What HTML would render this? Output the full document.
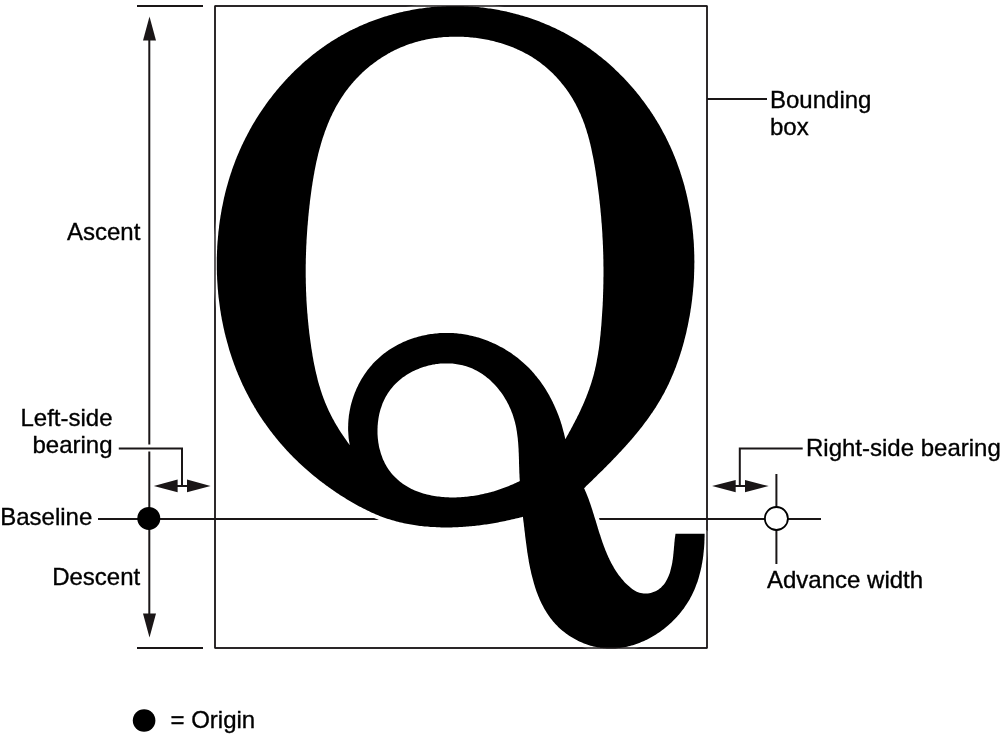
<!DOCTYPE html>
<html><head><meta charset="utf-8"><style>
html,body{margin:0;padding:0;background:#fff;width:1001px;height:739px;overflow:hidden}
svg{position:absolute;left:0;top:0;will-change:transform}
text{font-family:"Liberation Sans",sans-serif;font-size:24px;fill:#000;stroke:#000;stroke-width:0.35px}
</style></head><body>
<svg width="1001" height="739" viewBox="0 0 1001 739">
<g stroke="#1a1617" fill="none">
<line x1="137" y1="6" x2="203" y2="6" stroke-width="2"/>
<line x1="137" y1="648" x2="203" y2="648" stroke-width="2"/>
<rect x="215" y="6" width="492" height="642" stroke-width="1.4"/>
<line x1="149.3" y1="40" x2="149.3" y2="444.5" stroke-width="2"/>
<line x1="149.3" y1="451.5" x2="149.3" y2="614" stroke-width="2"/>
<line x1="98" y1="519" x2="380" y2="519" stroke-width="2"/>
<line x1="598" y1="519" x2="821" y2="519" stroke-width="2"/>
<line x1="707" y1="98.9" x2="767" y2="98.9" stroke-width="2"/>
<polyline points="118.8,448.4 182,448.4 182,486" stroke-width="2"/>
<polyline points="802.7,448.4 739.8,448.4 739.8,486" stroke-width="2"/>
<line x1="165" y1="486" x2="200" y2="486" stroke-width="2"/>
<line x1="720" y1="486.1" x2="760" y2="486.1" stroke-width="2"/>
<line x1="776.4" y1="474" x2="776.4" y2="564" stroke-width="2"/>
</g>
<g fill="#1a1617">
<polygon points="149.5,16.5 143,40.5 156,40.5"/>
<polygon points="149.5,637.5 143,613.5 156,613.5"/>
<polygon points="153.8,485.9 177.6,479.6 177.6,492.2"/>
<polygon points="210.6,485.9 187,479.6 187,492.2"/>
<polygon points="712.1,486.1 735.7,480 735.7,492.2"/>
<polygon points="768.7,486.1 745,480 745,492.2"/>
</g>
<path d="M522.9,516.8L523.1,518.2L523.2,519.6L523.4,521.0L523.6,522.4L523.8,523.8L523.9,525.2L524.1,526.7L524.3,528.1L524.4,529.6L524.6,531.1L524.8,532.5L525.0,534.0L525.1,535.5L525.3,537.0L525.5,538.5L525.7,540.0L525.9,541.5L526.1,543.0L526.3,544.5L526.5,546.0L526.7,547.6L526.9,549.1L527.1,550.6L527.3,552.2L527.6,553.7L527.8,555.2L528.1,556.8L528.3,558.3L528.6,559.8L528.8,561.4L529.1,562.9L529.4,564.4L529.7,566.0L530.0,567.5L530.3,569.0L530.7,570.5L531.0,572.1L531.3,573.6L531.7,575.1L532.1,576.6L532.5,578.1L532.9,579.6L533.3,581.1L533.7,582.6L534.1,584.1L534.6,585.6L535.0,587.0L535.5,588.5L536.0,590.0L536.5,591.4L537.0,592.8L537.6,594.3L538.1,595.7L538.7,597.1L539.3,598.5L539.9,599.9L540.5,601.3L541.1,602.6L541.8,604.0L542.5,605.3L543.2,606.6L543.9,608.0L544.6,609.3L545.4,610.5L546.2,611.8L546.9,613.1L547.8,614.3L548.6,615.5L549.5,616.8L550.3,618.0L551.2,619.1L552.2,620.3L553.1,621.4L554.1,622.6L555.1,623.7L556.1,624.8L557.2,625.8L558.2,626.9L559.3,627.9L560.4,628.9L561.6,629.9L562.7,630.9L563.9,631.8L565.1,632.7L566.3,633.7L567.5,634.5L568.8,635.4L570.0,636.2L571.3,637.0L572.6,637.8L573.9,638.6L575.2,639.3L576.6,640.0L577.9,640.7L579.3,641.4L580.7,642.0L582.0,642.6L583.4,643.2L584.8,643.7L586.3,644.3L587.7,644.8L589.1,645.2L590.5,645.7L592.0,646.1L593.4,646.4L594.9,646.8L596.3,647.1L597.8,647.4L599.3,647.6L600.7,647.9L602.2,648.0L603.7,648.2L605.1,648.3L606.6,648.4L608.1,648.5L609.5,648.5L611.0,648.5L612.5,648.5L614.0,648.4L615.4,648.4L616.9,648.2L618.4,648.1L619.8,647.9L621.3,647.7L622.7,647.5L624.2,647.2L625.7,647.0L627.1,646.7L628.5,646.3L630.0,646.0L631.4,645.6L632.9,645.2L634.3,644.7L635.7,644.3L637.1,643.8L638.5,643.2L639.9,642.7L641.3,642.1L642.7,641.6L644.1,640.9L645.4,640.3L646.8,639.7L648.1,639.0L649.5,638.3L650.8,637.6L652.1,636.8L653.4,636.0L654.7,635.3L656.0,634.5L657.3,633.6L658.6,632.8L659.8,631.9L661.1,631.0L662.3,630.1L663.5,629.2L664.7,628.2L665.9,627.3L667.1,626.3L668.3,625.3L669.4,624.3L670.5,623.2L671.7,622.2L672.8,621.1L673.8,620.0L674.9,618.9L676.0,617.8L677.0,616.7L678.0,615.5L679.0,614.4L680.0,613.2L681.0,612.0L681.9,610.8L682.9,609.6L683.8,608.4L684.7,607.1L685.5,605.8L686.4,604.6L687.2,603.3L688.0,602.0L688.8,600.7L689.6,599.4L690.3,598.0L691.0,596.7L691.7,595.4L692.4,594.0L693.1,592.6L693.7,591.2L694.3,589.9L694.9,588.5L695.5,587.1L696.0,585.6L696.5,584.2L697.1,582.8L697.6,581.4L698.0,579.9L698.5,578.5L698.9,577.0L699.3,575.5L699.7,574.1L700.1,572.6L700.5,571.1L700.8,569.7L701.1,568.2L701.5,566.7L701.7,565.2L702.0,563.7L702.3,562.2L702.5,560.7L702.8,559.2L703.0,557.7L703.2,556.2L703.4,554.7L703.5,553.2L703.7,551.7L703.8,550.2L704.0,548.7L704.1,547.2L704.2,545.7L704.3,544.2L704.4,542.7L704.4,541.2L704.5,539.7L704.5,538.2L704.6,536.8L704.6,535.3L704.6,533.8L675.5,533.8L675.3,535.2L675.1,536.7L674.9,538.1L674.7,539.6L674.6,541.0L674.4,542.5L674.3,544.0L674.2,545.5L674.0,546.9L673.9,548.4L673.8,550.0L673.6,551.5L673.5,553.0L673.3,554.5L673.2,556.1L673.0,557.6L672.8,559.2L672.5,560.8L672.3,562.4L672.0,563.9L671.7,565.5L671.3,567.1L670.9,568.7L670.5,570.3L670.1,571.9L669.6,573.4L669.0,574.9L668.4,576.4L667.8,577.8L667.1,579.3L666.4,580.6L665.6,581.9L664.8,583.2L663.9,584.4L662.9,585.6L661.9,586.6L660.9,587.7L659.7,588.6L658.6,589.4L657.3,590.2L656.1,590.9L654.8,591.6L653.4,592.1L652.1,592.6L650.7,592.9L649.3,593.2L647.9,593.4L646.5,593.5L645.0,593.6L643.6,593.5L642.2,593.3L640.8,593.1L639.4,592.7L638.1,592.2L636.7,591.7L635.4,591.0L634.1,590.2L632.9,589.4L631.6,588.5L630.4,587.6L629.3,586.6L628.1,585.6L627.0,584.5L625.9,583.5L624.8,582.4L623.8,581.3L622.8,580.1L621.8,579.0L620.9,577.8L619.9,576.6L619.0,575.4L618.1,574.2L617.3,573.0L616.4,571.7L615.6,570.5L614.8,569.2L614.0,567.9L613.3,566.6L612.5,565.3L611.8,564.0L611.1,562.7L610.4,561.3L609.7,559.9L609.1,558.6L608.4,557.2L607.8,555.8L607.2,554.4L606.6,553.0L606.0,551.6L605.4,550.2L604.9,548.7L604.3,547.3L603.8,545.9L603.3,544.4L602.7,543.0L602.2,541.5L601.7,540.0L601.2,538.6L600.7,537.1L600.3,535.6L599.8,534.2L599.3,532.7L598.8,531.2L598.4,529.7L597.9,528.2L597.5,526.7L597.0,525.3L596.6,523.8L596.1,522.3L595.7,520.8L595.2,519.3L594.8,517.9L594.3,516.4L593.9,514.9L593.4,513.4L592.9,512.0L592.5,510.5L592.0,509.1L591.5,507.6L591.1,506.2L590.6,504.8L590.1,503.3L589.6,501.9L589.1,500.5L588.6,499.1L588.1,497.7L587.5,496.3L587.0,494.9L586.4,493.6L585.9,492.2L585.3,490.9L584.7,489.5L584.1,488.2L585.2,487.2L586.2,486.1L587.3,485.1L588.4,484.1L589.4,483.0L590.5,482.0L591.6,480.9L592.6,479.9L593.7,478.8L594.8,477.8L595.9,476.8L596.9,475.7L598.0,474.6L599.1,473.6L600.1,472.5L601.2,471.5L602.3,470.4L603.3,469.4L604.4,468.3L605.5,467.2L606.5,466.2L607.6,465.1L608.7,464.0L609.7,462.9L610.8,461.9L611.8,460.8L612.9,459.7L613.9,458.6L615.0,457.5L616.0,456.4L617.1,455.3L618.1,454.2L619.1,453.1L620.2,452.0L621.2,450.9L622.2,449.8L623.2,448.7L624.3,447.6L625.3,446.5L626.3,445.3L627.3,444.2L628.3,443.1L629.3,441.9L630.3,440.8L631.3,439.7L632.3,438.5L633.2,437.4L634.2,436.2L635.2,435.1L636.1,433.9L637.1,432.8L638.1,431.6L639.0,430.4L639.9,429.2L640.9,428.1L641.8,426.9L642.7,425.7L643.6,424.5L644.5,423.3L645.4,422.1L646.3,420.9L647.2,419.7L648.1,418.5L649.0,417.3L649.8,416.0L650.7,414.8L651.5,413.6L652.4,412.4L653.2,411.1L654.0,409.9L654.9,408.6L655.7,407.4L656.5,406.1L657.3,404.8L658.0,403.6L658.8,402.3L659.6,401.0L660.3,399.7L661.1,398.4L661.8,397.1L662.5,395.8L663.3,394.5L664.0,393.2L664.7,391.9L665.3,390.6L666.0,389.2L666.7,387.9L667.4,386.6L668.0,385.2L668.7,383.9L669.3,382.5L669.9,381.2L670.5,379.8L671.1,378.5L671.7,377.1L672.3,375.7L672.9,374.3L673.5,373.0L674.0,371.6L674.6,370.2L675.1,368.8L675.7,367.4L676.2,366.0L676.7,364.6L677.2,363.2L677.7,361.8L678.2,360.4L678.7,358.9L679.2,357.5L679.7,356.1L680.1,354.7L680.6,353.2L681.0,351.8L681.5,350.4L681.9,348.9L682.3,347.5L682.8,346.0L683.2,344.6L683.6,343.1L684.0,341.7L684.3,340.2L684.7,338.8L685.1,337.3L685.4,335.9L685.8,334.4L686.2,332.9L686.5,331.5L686.8,330.0L687.1,328.5L687.5,327.0L687.8,325.6L688.1,324.1L688.4,322.6L688.7,321.1L688.9,319.6L689.2,318.2L689.5,316.7L689.8,315.2L690.0,313.7L690.3,312.2L690.5,310.7L690.7,309.2L691.0,307.7L691.2,306.2L691.4,304.7L691.6,303.2L691.8,301.7L692.0,300.2L692.2,298.7L692.3,297.2L692.5,295.7L692.7,294.2L692.8,292.7L693.0,291.2L693.1,289.7L693.2,288.2L693.4,286.7L693.5,285.2L693.6,283.7L693.7,282.2L693.8,280.7L693.9,279.2L694.0,277.7L694.0,276.2L694.1,274.7L694.1,273.1L694.2,271.6L694.2,270.1L694.3,268.6L694.3,267.1L694.3,265.6L694.3,264.1L694.4,262.6L694.4,261.1L694.3,259.6L694.3,258.1L694.3,256.5L694.3,255.0L694.2,253.5L694.2,252.0L694.1,250.5L694.1,249.0L694.0,247.5L693.9,246.0L693.9,244.5L693.8,243.0L693.7,241.5L693.6,240.0L693.4,238.5L693.3,237.0L693.2,235.5L693.1,234.0L692.9,232.5L692.8,231.0L692.6,229.5L692.4,228.0L692.3,226.5L692.1,225.0L691.9,223.5L691.7,222.0L691.5,220.6L691.3,219.1L691.1,217.6L690.8,216.1L690.6,214.6L690.4,213.1L690.1,211.7L689.9,210.2L689.6,208.7L689.3,207.2L689.0,205.8L688.7,204.3L688.4,202.8L688.1,201.3L687.8,199.9L687.5,198.4L687.2,197.0L686.8,195.5L686.5,194.0L686.1,192.6L685.8,191.1L685.4,189.7L685.0,188.2L684.7,186.8L684.3,185.3L683.9,183.9L683.5,182.5L683.0,181.0L682.6,179.6L682.2,178.2L681.7,176.7L681.3,175.3L680.8,173.9L680.4,172.5L679.9,171.1L679.4,169.6L678.9,168.2L678.4,166.8L677.9,165.4L677.4,164.0L676.9,162.6L676.4,161.2L675.9,159.8L675.3,158.4L674.8,157.0L674.2,155.7L673.6,154.3L673.1,152.9L672.5,151.5L671.9,150.2L671.3,148.8L670.7,147.4L670.1,146.1L669.4,144.7L668.8,143.4L668.2,142.0L667.5,140.7L666.8,139.3L666.2,138.0L665.5,136.6L664.8,135.3L664.1,134.0L663.4,132.7L662.7,131.4L662.0,130.0L661.3,128.7L660.6,127.4L659.8,126.1L659.1,124.8L658.3,123.5L657.5,122.2L656.8,121.0L656.0,119.7L655.2,118.4L654.4,117.1L653.6,115.9L652.8,114.6L652.0,113.4L651.1,112.1L650.3,110.9L649.5,109.6L648.6,108.4L647.7,107.2L646.9,105.9L646.0,104.7L645.1,103.5L644.2,102.3L643.3,101.1L642.4,99.9L641.5,98.7L640.6,97.5L639.7,96.3L638.7,95.1L637.8,94.0L636.8,92.8L635.9,91.6L634.9,90.5L634.0,89.3L633.0,88.2L632.0,87.0L631.0,85.9L630.0,84.8L629.0,83.7L628.0,82.5L627.0,81.4L625.9,80.3L624.9,79.2L623.9,78.1L622.8,77.1L621.8,76.0L620.7,74.9L619.7,73.9L618.6,72.8L617.5,71.7L616.4,70.7L615.3,69.7L614.2,68.6L613.1,67.6L612.0,66.6L610.9,65.6L609.8,64.6L608.7,63.6L607.5,62.6L606.4,61.6L605.2,60.6L604.1,59.7L602.9,58.7L601.8,57.8L600.6,56.8L599.4,55.9L598.2,54.9L597.0,54.0L595.8,53.1L594.6,52.2L593.4,51.3L592.2,50.4L591.0,49.5L589.8,48.6L588.6,47.8L587.3,46.9L586.1,46.1L584.8,45.2L583.6,44.4L582.3,43.6L581.1,42.7L579.8,41.9L578.5,41.1L577.3,40.3L576.0,39.5L574.7,38.8L573.4,38.0L572.1,37.2L570.8,36.5L569.5,35.7L568.2,35.0L566.9,34.3L565.5,33.6L564.2,32.8L562.9,32.1L561.5,31.5L560.2,30.8L558.9,30.1L557.5,29.4L556.2,28.8L554.8,28.1L553.4,27.5L552.1,26.9L550.7,26.3L549.3,25.6L547.9,25.0L546.6,24.4L545.2,23.9L543.8,23.3L542.4,22.7L541.0,22.2L539.6,21.6L538.2,21.1L536.8,20.6L535.4,20.0L533.9,19.5L532.5,19.0L531.1,18.5L529.7,18.1L528.2,17.6L526.8,17.1L525.4,16.7L523.9,16.2L522.5,15.8L521.0,15.4L519.6,15.0L518.1,14.5L516.7,14.2L515.2,13.8L513.8,13.4L512.3,13.0L510.9,12.7L509.4,12.3L507.9,12.0L506.5,11.6L505.0,11.3L503.5,11.0L502.1,10.7L500.6,10.4L499.1,10.1L497.6,9.8L496.1,9.6L494.7,9.3L493.2,9.1L491.7,8.8L490.2,8.6L488.7,8.4L487.2,8.2L485.7,8.0L484.2,7.8L482.8,7.6L481.3,7.4L479.8,7.3L478.3,7.1L476.8,7.0L475.3,6.8L473.8,6.7L472.3,6.6L470.8,6.5L469.3,6.4L467.8,6.3L466.3,6.2L464.8,6.2L463.3,6.1L461.8,6.1L460.3,6.0L458.8,6.0L457.3,6.0L455.8,6.0L454.3,6.0L452.8,6.0L451.3,6.0L449.8,6.0L448.3,6.1L446.8,6.1L445.3,6.2L443.8,6.2L442.3,6.3L440.8,6.4L439.3,6.5L437.8,6.6L436.3,6.7L434.8,6.8L433.3,7.0L431.8,7.1L430.3,7.3L428.8,7.4L427.4,7.6L425.9,7.8L424.4,8.0L422.9,8.2L421.4,8.4L419.9,8.6L418.4,8.8L417.0,9.0L415.5,9.3L414.0,9.5L412.5,9.8L411.1,10.1L409.6,10.4L408.1,10.7L406.7,11.0L405.2,11.3L403.7,11.6L402.3,11.9L400.8,12.3L399.4,12.6L397.9,13.0L396.5,13.3L395.0,13.7L393.6,14.1L392.1,14.5L390.7,14.9L389.3,15.3L387.8,15.7L386.4,16.2L385.0,16.6L383.5,17.1L382.1,17.5L380.7,18.0L379.3,18.5L377.9,18.9L376.4,19.4L375.0,19.9L373.6,20.5L372.2,21.0L370.8,21.5L369.4,22.1L368.1,22.6L366.7,23.2L365.3,23.8L363.9,24.3L362.5,24.9L361.2,25.5L359.8,26.1L358.4,26.7L357.1,27.4L355.7,28.0L354.4,28.7L353.0,29.3L351.7,30.0L350.3,30.6L349.0,31.3L347.7,32.0L346.4,32.7L345.0,33.4L343.7,34.2L342.4,34.9L341.1,35.6L339.8,36.4L338.5,37.1L337.2,37.9L335.9,38.7L334.6,39.4L333.4,40.2L332.1,41.0L330.8,41.8L329.6,42.7L328.3,43.5L327.1,44.3L325.8,45.2L324.6,46.0L323.4,46.9L322.1,47.8L320.9,48.7L319.7,49.5L318.5,50.4L317.3,51.3L316.1,52.3L314.9,53.2L313.7,54.1L312.5,55.1L311.3,56.0L310.2,57.0L309.0,57.9L307.8,58.9L306.7,59.9L305.5,60.8L304.4,61.8L303.3,62.8L302.1,63.8L301.0,64.9L299.9,65.9L298.8,66.9L297.7,68.0L296.6,69.0L295.5,70.0L294.4,71.1L293.3,72.2L292.2,73.2L291.2,74.3L290.1,75.4L289.1,76.5L288.0,77.6L287.0,78.7L285.9,79.8L284.9,80.9L283.9,82.1L282.9,83.2L281.9,84.3L280.9,85.5L279.9,86.6L278.9,87.8L277.9,88.9L276.9,90.1L276.0,91.3L275.0,92.4L274.1,93.6L273.1,94.8L272.2,96.0L271.3,97.2L270.3,98.4L269.4,99.6L268.5,100.8L267.6,102.0L266.7,103.3L265.8,104.5L265.0,105.7L264.1,107.0L263.2,108.2L262.4,109.5L261.5,110.7L260.7,112.0L259.8,113.3L259.0,114.5L258.2,115.8L257.4,117.1L256.6,118.3L255.8,119.6L255.0,120.9L254.2,122.2L253.4,123.5L252.7,124.8L251.9,126.1L251.2,127.4L250.4,128.7L249.7,130.1L249.0,131.4L248.3,132.7L247.6,134.0L246.9,135.4L246.2,136.7L245.5,138.0L244.8,139.4L244.2,140.7L243.5,142.1L242.9,143.4L242.2,144.8L241.6,146.1L241.0,147.5L240.4,148.8L239.7,150.2L239.2,151.6L238.6,152.9L238.0,154.3L237.4,155.7L236.8,157.1L236.3,158.4L235.7,159.8L235.2,161.2L234.7,162.6L234.2,164.0L233.6,165.4L233.1,166.8L232.6,168.2L232.1,169.6L231.7,171.0L231.2,172.4L230.7,173.8L230.3,175.2L229.8,176.6L229.4,178.0L228.9,179.5L228.5,180.9L228.1,182.3L227.7,183.7L227.3,185.2L226.9,186.6L226.5,188.0L226.1,189.5L225.7,190.9L225.4,192.3L225.0,193.8L224.7,195.2L224.3,196.7L224.0,198.1L223.7,199.6L223.4,201.0L223.1,202.5L222.8,203.9L222.5,205.4L222.2,206.8L221.9,208.3L221.6,209.8L221.4,211.2L221.1,212.7L220.9,214.2L220.6,215.6L220.4,217.1L220.2,218.6L219.9,220.1L219.7,221.5L219.5,223.0L219.3,224.5L219.1,226.0L219.0,227.5L218.8,229.0L218.6,230.5L218.4,231.9L218.3,233.4L218.2,234.9L218.0,236.4L217.9,237.9L217.8,239.4L217.6,240.9L217.5,242.4L217.4,243.9L217.3,245.4L217.2,246.9L217.2,248.4L217.1,249.9L217.0,251.4L217.0,252.9L216.9,254.4L216.9,256.0L216.8,257.5L216.8,259.0L216.8,260.5L216.8,262.0L216.8,263.5L216.8,265.0L216.8,266.5L216.8,268.0L216.8,269.5L216.9,271.1L216.9,272.6L216.9,274.1L217.0,275.6L217.1,277.1L217.1,278.6L217.2,280.1L217.3,281.6L217.4,283.1L217.5,284.6L217.6,286.2L217.7,287.7L217.8,289.2L218.0,290.7L218.1,292.2L218.2,293.7L218.4,295.2L218.5,296.7L218.7,298.2L218.9,299.7L219.1,301.2L219.3,302.7L219.5,304.2L219.7,305.7L219.9,307.2L220.1,308.7L220.3,310.2L220.6,311.7L220.8,313.2L221.0,314.7L221.3,316.2L221.6,317.7L221.8,319.2L222.1,320.6L222.4,322.1L222.7,323.6L223.0,325.1L223.3,326.6L223.6,328.0L224.0,329.5L224.3,331.0L224.6,332.5L225.0,333.9L225.4,335.4L225.7,336.9L226.1,338.3L226.5,339.8L226.9,341.2L227.3,342.7L227.7,344.1L228.1,345.6L228.5,347.0L228.9,348.5L229.3,349.9L229.8,351.4L230.2,352.8L230.7,354.2L231.2,355.7L231.6,357.1L232.1,358.5L232.6,359.9L233.1,361.3L233.6,362.8L234.1,364.2L234.6,365.6L235.2,367.0L235.7,368.4L236.2,369.8L236.8,371.2L237.4,372.6L237.9,374.0L238.5,375.3L239.1,376.7L239.7,378.1L240.3,379.5L240.9,380.8L241.5,382.2L242.1,383.6L242.7,384.9L243.4,386.3L244.0,387.6L244.7,389.0L245.3,390.3L246.0,391.6L246.7,393.0L247.4,394.3L248.1,395.6L248.8,397.0L249.5,398.3L250.2,399.6L250.9,400.9L251.6,402.2L252.4,403.5L253.1,404.8L253.9,406.1L254.6,407.4L255.4,408.6L256.2,409.9L256.9,411.2L257.7,412.4L258.5,413.7L259.3,415.0L260.1,416.2L261.0,417.5L261.8,418.7L262.6,419.9L263.5,421.2L264.3,422.4L265.2,423.6L266.0,424.8L266.9,426.1L267.8,427.3L268.7,428.5L269.6,429.7L270.5,430.9L271.4,432.1L272.3,433.2L273.2,434.4L274.1,435.6L275.1,436.8L276.0,437.9L276.9,439.1L277.9,440.2L278.9,441.4L279.8,442.5L280.8,443.7L281.8,444.8L282.8,445.9L283.8,447.1L284.8,448.2L285.8,449.3L286.8,450.4L287.8,451.5L288.8,452.6L289.9,453.7L290.9,454.8L292.0,455.8L293.0,456.9L294.1,458.0L295.1,459.0L296.2,460.1L297.3,461.1L298.4,462.2L299.5,463.2L300.6,464.2L301.7,465.3L302.8,466.3L303.9,467.3L305.0,468.3L306.2,469.3L307.3,470.3L308.5,471.3L309.6,472.3L310.8,473.3L311.9,474.2L313.1,475.2L314.3,476.2L315.4,477.1L316.6,478.1L317.8,479.0L319.0,480.0L320.2,480.9L321.4,481.8L322.6,482.7L323.8,483.6L325.0,484.5L326.2,485.4L327.5,486.3L328.7,487.2L329.9,488.1L331.2,489.0L332.4,489.8L333.7,490.7L334.9,491.5L336.2,492.4L337.4,493.2L338.7,494.1L339.9,494.9L341.2,495.7L342.5,496.5L343.8,497.3L345.0,498.1L346.3,498.9L347.6,499.7L348.9,500.5L350.2,501.2L351.5,502.0L352.8,502.7L354.1,503.5L355.4,504.2L356.7,505.0L358.0,505.7L359.3,506.4L360.7,507.1L362.0,507.8L363.3,508.5L364.6,509.1L366.0,509.8L367.3,510.5L368.7,511.1L370.0,511.7L371.4,512.4L372.7,513.0L374.1,513.6L375.4,514.2L376.8,514.7L378.2,515.3L379.6,515.9L381.0,516.4L382.3,516.9L383.7,517.4L385.1,517.9L386.5,518.4L388.0,518.9L389.4,519.3L390.8,519.8L392.2,520.2L393.6,520.6L395.1,521.0L396.5,521.4L398.0,521.8L399.4,522.2L400.9,522.5L402.3,522.8L403.8,523.2L405.2,523.5L406.7,523.8L408.2,524.1L409.6,524.3L411.1,524.6L412.6,524.8L414.1,525.1L415.6,525.3L417.1,525.5L418.5,525.7L420.0,525.9L421.5,526.1L423.0,526.2L424.5,526.4L426.0,526.5L427.5,526.6L429.0,526.8L430.5,526.9L432.0,527.0L433.5,527.1L435.1,527.1L436.6,527.2L438.1,527.3L439.6,527.3L441.1,527.4L442.6,527.4L444.1,527.4L445.6,527.4L447.1,527.4L448.6,527.4L450.1,527.4L451.7,527.4L453.2,527.3L454.7,527.3L456.2,527.2L457.7,527.2L459.2,527.1L460.7,527.0L462.2,526.9L463.7,526.8L465.2,526.7L466.7,526.6L468.2,526.5L469.7,526.3L471.2,526.2L472.8,526.1L474.3,525.9L475.8,525.7L477.3,525.6L478.8,525.4L480.2,525.2L481.7,525.0L483.2,524.8L484.7,524.6L486.2,524.4L487.7,524.2L489.2,523.9L490.7,523.7L492.2,523.4L493.7,523.2L495.1,522.9L496.6,522.7L498.1,522.4L499.6,522.1L501.1,521.8L502.5,521.5L504.0,521.2L505.5,520.9L506.9,520.6L508.4,520.3L509.9,520.0L511.3,519.6L512.8,519.3L514.2,519.0L515.7,518.6L517.1,518.3L518.6,517.9L520.0,517.5L521.5,517.2L522.9,516.8Z M349.8,445.3L349.5,443.8L349.3,442.2L349.0,440.7L348.8,439.2L348.6,437.7L348.5,436.1L348.4,434.6L348.3,433.1L348.2,431.5L348.1,430.0L348.1,428.5L348.1,426.9L348.2,425.4L348.2,423.9L348.3,422.3L348.4,420.8L348.5,419.3L348.7,417.8L348.8,416.3L349.0,414.8L349.3,413.2L349.5,411.7L349.8,410.2L350.1,408.8L350.4,407.3L350.7,405.8L351.1,404.3L351.5,402.8L351.9,401.4L352.3,399.9L352.8,398.5L353.3,397.0L353.8,395.6L354.3,394.2L354.8,392.8L355.4,391.4L356.0,390.0L356.6,388.6L357.2,387.2L357.9,385.9L358.5,384.5L359.2,383.2L359.9,381.9L360.7,380.6L361.4,379.2L362.2,378.0L363.0,376.7L363.8,375.4L364.6,374.2L365.5,372.9L366.4,371.7L367.2,370.5L368.2,369.3L369.1,368.2L370.0,367.0L371.0,365.9L372.0,364.7L373.0,363.6L374.0,362.5L375.0,361.5L376.1,360.4L377.2,359.4L378.3,358.4L379.4,357.4L380.5,356.4L381.6,355.4L382.8,354.5L384.0,353.6L385.2,352.7L386.4,351.8L387.6,350.9L388.8,350.1L390.1,349.3L391.3,348.5L392.6,347.7L393.9,346.9L395.2,346.2L396.5,345.4L397.8,344.7L399.2,344.0L400.5,343.4L401.9,342.7L403.2,342.1L404.6,341.5L406.0,340.9L407.4,340.3L408.8,339.8L410.2,339.3L411.6,338.8L413.1,338.3L414.5,337.8L416.0,337.4L417.4,337.0L418.9,336.6L420.3,336.2L421.8,335.8L423.3,335.5L424.7,335.2L426.2,334.9L427.7,334.6L429.2,334.3L430.7,334.1L432.2,333.9L433.7,333.7L435.2,333.5L436.7,333.4L438.2,333.2L439.7,333.1L441.2,333.0L442.7,333.0L444.3,332.9L445.8,332.9L447.3,332.9L448.8,332.9L450.3,333.0L451.8,333.0L453.3,333.1L454.8,333.2L456.3,333.3L457.8,333.5L459.3,333.7L460.8,333.8L462.3,334.0L463.8,334.3L465.3,334.5L466.8,334.8L468.2,335.1L469.7,335.4L471.2,335.7L472.6,336.1L474.1,336.4L475.6,336.8L477.0,337.2L478.5,337.6L479.9,338.1L481.3,338.5L482.8,339.0L484.2,339.5L485.6,340.0L487.0,340.6L488.4,341.1L489.8,341.7L491.2,342.3L492.6,342.9L494.0,343.5L495.3,344.1L496.7,344.8L498.1,345.5L499.4,346.2L500.7,346.9L502.1,347.6L503.4,348.3L504.7,349.1L506.0,349.9L507.3,350.7L508.5,351.5L509.8,352.3L511.1,353.1L512.3,354.0L513.5,354.9L514.8,355.8L516.0,356.7L517.2,357.6L518.4,358.5L519.5,359.5L520.7,360.4L521.8,361.4L523.0,362.4L524.1,363.4L525.2,364.4L526.3,365.4L527.4,366.5L528.5,367.6L529.5,368.6L530.6,369.7L531.6,370.8L532.6,371.9L533.6,373.1L534.6,374.2L535.5,375.4L536.5,376.5L537.4,377.7L538.4,378.9L539.3,380.1L540.2,381.3L541.1,382.5L541.9,383.8L542.8,385.0L543.7,386.3L544.5,387.5L545.3,388.8L546.1,390.1L546.9,391.4L547.7,392.7L548.4,394.0L549.2,395.3L549.9,396.7L550.6,398.0L551.3,399.3L552.0,400.7L552.7,402.0L553.3,403.4L554.0,404.8L554.6,406.2L555.2,407.5L555.8,408.9L556.4,410.3L557.0,411.7L557.6,413.2L558.1,414.6L558.7,416.0L559.2,417.4L559.7,418.8L560.2,420.3L560.7,421.7L561.1,423.2L561.6,424.6L562.0,426.1L562.4,427.5L562.8,429.0L563.2,430.4L563.6,431.9L564.0,433.3L564.3,434.8L564.7,436.3L565.0,437.7L565.3,439.2L566.0,437.9L566.8,436.6L567.5,435.3L568.3,433.9L569.0,432.6L569.7,431.3L570.5,430.0L571.2,428.6L571.9,427.3L572.6,426.0L573.3,424.6L574.0,423.3L574.7,422.0L575.4,420.6L576.1,419.3L576.8,417.9L577.4,416.6L578.1,415.2L578.8,413.9L579.4,412.5L580.1,411.2L580.7,409.8L581.3,408.4L581.9,407.1L582.6,405.7L583.2,404.3L583.8,402.9L584.4,401.6L584.9,400.2L585.5,398.8L586.1,397.4L586.6,396.0L587.2,394.6L587.7,393.2L588.2,391.8L588.7,390.4L589.3,389.0L589.7,387.6L590.2,386.2L590.7,384.7L591.2,383.3L591.6,381.9L592.0,380.5L592.5,379.0L592.9,377.6L593.3,376.2L593.7,374.7L594.1,373.3L594.4,371.8L594.8,370.4L595.1,368.9L595.4,367.4L595.8,366.0L596.1,364.5L596.4,363.0L596.7,361.6L596.9,360.1L597.2,358.6L597.5,357.1L597.7,355.7L598.0,354.2L598.2,352.7L598.4,351.2L598.7,349.7L598.9,348.2L599.1,346.7L599.3,345.2L599.5,343.7L599.6,342.2L599.8,340.7L600.0,339.2L600.1,337.7L600.3,336.2L600.5,334.7L600.6,333.2L600.7,331.7L600.9,330.2L601.0,328.7L601.1,327.2L601.3,325.7L601.4,324.2L601.5,322.7L601.6,321.2L601.7,319.7L601.8,318.2L601.9,316.7L602.0,315.2L602.1,313.7L602.2,312.2L602.3,310.7L602.4,309.2L602.5,307.7L602.6,306.2L602.7,304.7L602.7,303.2L602.8,301.7L602.9,300.2L602.9,298.7L603.0,297.2L603.0,295.7L603.1,294.2L603.1,292.7L603.2,291.2L603.2,289.7L603.3,288.2L603.3,286.7L603.3,285.2L603.4,283.7L603.4,282.2L603.4,280.7L603.4,279.2L603.4,277.7L603.5,276.2L603.5,274.7L603.5,273.2L603.5,271.7L603.5,270.2L603.5,268.7L603.5,267.2L603.4,265.7L603.4,264.2L603.4,262.7L603.4,261.2L603.4,259.7L603.3,258.2L603.3,256.7L603.3,255.2L603.2,253.7L603.2,252.2L603.1,250.7L603.1,249.2L603.0,247.7L603.0,246.2L602.9,244.7L602.8,243.2L602.8,241.7L602.7,240.2L602.6,238.7L602.5,237.2L602.4,235.7L602.4,234.2L602.3,232.7L602.2,231.2L602.1,229.7L602.0,228.2L601.9,226.7L601.8,225.2L601.7,223.7L601.5,222.2L601.4,220.7L601.3,219.2L601.2,217.7L601.1,216.2L600.9,214.7L600.8,213.2L600.6,211.7L600.5,210.2L600.4,208.7L600.2,207.2L600.1,205.7L599.9,204.2L599.7,202.7L599.6,201.2L599.4,199.7L599.2,198.2L599.1,196.7L598.9,195.2L598.7,193.8L598.5,192.3L598.3,190.8L598.1,189.3L597.9,187.8L597.7,186.3L597.5,184.8L597.3,183.3L597.1,181.8L596.9,180.3L596.7,178.8L596.5,177.3L596.2,175.8L596.0,174.3L595.8,172.8L595.6,171.3L595.3,169.8L595.1,168.3L594.8,166.8L594.6,165.3L594.3,163.8L594.0,162.3L593.8,160.8L593.5,159.3L593.2,157.8L592.9,156.3L592.6,154.9L592.3,153.4L592.0,151.9L591.7,150.4L591.4,148.9L591.1,147.5L590.7,146.0L590.4,144.5L590.0,143.1L589.6,141.6L589.3,140.1L588.9,138.7L588.5,137.2L588.1,135.8L587.7,134.3L587.2,132.9L586.8,131.5L586.4,130.0L585.9,128.6L585.4,127.2L585.0,125.8L584.5,124.3L584.0,122.9L583.4,121.5L582.9,120.1L582.4,118.7L581.8,117.4L581.2,116.0L580.7,114.6L580.1,113.2L579.4,111.9L578.8,110.5L578.2,109.2L577.5,107.8L576.8,106.5L576.2,105.2L575.5,103.8L574.7,102.5L574.0,101.2L573.3,99.9L572.5,98.6L571.7,97.3L570.9,96.1L570.1,94.8L569.3,93.6L568.5,92.3L567.6,91.1L566.7,89.8L565.9,88.6L565.0,87.4L564.1,86.2L563.1,85.0L562.2,83.9L561.2,82.7L560.3,81.6L559.3,80.4L558.3,79.3L557.3,78.2L556.3,77.1L555.3,76.0L554.2,74.9L553.2,73.8L552.1,72.8L551.0,71.7L549.9,70.7L548.8,69.7L547.7,68.7L546.6,67.7L545.4,66.8L544.3,65.8L543.1,64.9L541.9,63.9L540.7,63.0L539.5,62.1L538.3,61.3L537.1,60.4L535.9,59.6L534.6,58.7L533.4,57.9L532.1,57.1L530.8,56.3L529.5,55.6L528.2,54.8L526.9,54.1L525.6,53.4L524.3,52.7L523.0,52.0L521.6,51.3L520.3,50.7L518.9,50.0L517.5,49.4L516.2,48.8L514.8,48.2L513.4,47.6L512.0,47.0L510.6,46.5L509.2,46.0L507.8,45.5L506.3,44.9L504.9,44.5L503.5,44.0L502.0,43.5L500.6,43.1L499.1,42.7L497.7,42.3L496.2,41.9L494.8,41.5L493.3,41.1L491.8,40.8L490.3,40.4L488.9,40.1L487.4,39.8L485.9,39.5L484.4,39.2L482.9,38.9L481.4,38.7L479.9,38.5L478.4,38.2L476.9,38.0L475.4,37.8L473.9,37.7L472.4,37.5L470.9,37.4L469.4,37.2L467.8,37.1L466.3,37.0L464.8,36.9L463.3,36.8L461.8,36.8L460.3,36.7L458.8,36.7L457.3,36.7L455.8,36.7L454.2,36.7L452.7,36.7L451.2,36.7L449.7,36.8L448.2,36.9L446.7,36.9L445.2,37.0L443.7,37.1L442.2,37.3L440.7,37.4L439.3,37.6L437.8,37.7L436.3,37.9L434.8,38.1L433.3,38.3L431.9,38.5L430.4,38.8L428.9,39.0L427.5,39.3L426.0,39.6L424.5,39.9L423.1,40.2L421.6,40.6L420.2,40.9L418.7,41.3L417.3,41.7L415.9,42.1L414.4,42.5L413.0,42.9L411.6,43.4L410.2,43.8L408.8,44.3L407.4,44.8L406.0,45.3L404.6,45.9L403.2,46.4L401.8,47.0L400.4,47.6L399.0,48.2L397.7,48.8L396.3,49.4L394.9,50.1L393.6,50.7L392.2,51.4L390.9,52.1L389.6,52.9L388.2,53.6L386.9,54.4L385.6,55.2L384.3,55.9L383.0,56.7L381.7,57.6L380.4,58.4L379.2,59.3L377.9,60.1L376.7,61.0L375.4,61.9L374.2,62.8L373.0,63.7L371.7,64.7L370.5,65.6L369.3,66.6L368.2,67.6L367.0,68.6L365.8,69.6L364.7,70.6L363.6,71.6L362.4,72.6L361.3,73.7L360.2,74.7L359.2,75.8L358.1,76.9L357.0,78.0L356.0,79.1L355.0,80.2L353.9,81.3L353.0,82.4L352.0,83.6L351.0,84.7L350.0,85.9L349.1,87.1L348.2,88.2L347.3,89.4L346.4,90.6L345.5,91.8L344.6,93.0L343.8,94.2L343.0,95.4L342.1,96.7L341.3,97.9L340.5,99.2L339.7,100.4L339.0,101.7L338.2,102.9L337.5,104.2L336.7,105.5L336.0,106.8L335.3,108.1L334.6,109.4L334.0,110.7L333.3,112.0L332.6,113.3L332.0,114.7L331.4,116.0L330.7,117.3L330.1,118.7L329.5,120.0L328.9,121.4L328.4,122.8L327.8,124.1L327.3,125.5L326.7,126.9L326.2,128.3L325.7,129.7L325.1,131.1L324.6,132.5L324.2,133.9L323.7,135.3L323.2,136.7L322.7,138.1L322.3,139.5L321.8,140.9L321.4,142.4L321.0,143.8L320.6,145.3L320.2,146.7L319.8,148.1L319.4,149.6L319.0,151.0L318.6,152.5L318.2,154.0L317.9,155.4L317.5,156.9L317.2,158.4L316.9,159.8L316.5,161.3L316.2,162.8L315.9,164.3L315.6,165.7L315.3,167.2L315.0,168.7L314.7,170.2L314.4,171.7L314.2,173.2L313.9,174.7L313.6,176.2L313.4,177.7L313.1,179.2L312.9,180.7L312.6,182.2L312.4,183.7L312.2,185.2L311.9,186.7L311.7,188.2L311.5,189.7L311.3,191.2L311.1,192.7L310.9,194.2L310.7,195.7L310.5,197.2L310.3,198.8L310.1,200.3L309.9,201.8L309.8,203.3L309.6,204.8L309.4,206.3L309.3,207.8L309.1,209.3L308.9,210.8L308.8,212.3L308.6,213.8L308.5,215.3L308.3,216.8L308.2,218.3L308.1,219.9L307.9,221.4L307.8,222.9L307.7,224.4L307.5,225.9L307.4,227.4L307.3,228.9L307.2,230.4L307.1,231.9L307.0,233.4L306.9,234.9L306.8,236.4L306.7,237.9L306.6,239.4L306.5,240.9L306.5,242.4L306.4,243.9L306.3,245.4L306.2,246.9L306.2,248.4L306.1,249.9L306.1,251.4L306.0,252.9L306.0,254.4L305.9,255.9L305.9,257.4L305.8,258.9L305.8,260.5L305.8,262.0L305.8,263.5L305.7,265.0L305.7,266.5L305.7,268.0L305.7,269.5L305.7,271.0L305.7,272.5L305.7,274.0L305.7,275.5L305.7,277.0L305.8,278.4L305.8,279.9L305.8,281.4L305.8,282.9L305.9,284.4L305.9,285.9L306.0,287.4L306.0,288.9L306.0,290.4L306.1,291.9L306.2,293.4L306.2,294.9L306.3,296.4L306.4,297.9L306.4,299.4L306.5,300.9L306.6,302.4L306.7,303.9L306.8,305.4L306.9,306.9L307.0,308.4L307.1,309.9L307.2,311.4L307.3,312.9L307.5,314.3L307.6,315.8L307.7,317.3L307.8,318.8L308.0,320.3L308.1,321.8L308.3,323.3L308.4,324.8L308.6,326.3L308.7,327.8L308.9,329.3L309.1,330.7L309.2,332.2L309.4,333.7L309.6,335.2L309.8,336.7L310.0,338.2L310.2,339.7L310.4,341.2L310.6,342.7L310.8,344.1L311.0,345.6L311.2,347.1L311.4,348.6L311.7,350.1L311.9,351.6L312.2,353.0L312.4,354.5L312.6,356.0L312.9,357.5L313.2,359.0L313.4,360.4L313.7,361.9L314.0,363.4L314.3,364.9L314.6,366.3L314.9,367.8L315.2,369.3L315.5,370.7L315.9,372.2L316.2,373.7L316.6,375.1L316.9,376.6L317.3,378.0L317.6,379.5L318.0,380.9L318.4,382.4L318.8,383.8L319.2,385.2L319.7,386.7L320.1,388.1L320.5,389.5L321.0,391.0L321.5,392.4L321.9,393.8L322.4,395.2L322.9,396.6L323.4,398.0L324.0,399.4L324.5,400.8L325.0,402.2L325.6,403.6L326.2,405.0L326.8,406.3L327.4,407.7L328.0,409.1L328.6,410.4L329.2,411.8L329.9,413.1L330.6,414.5L331.2,415.8L331.9,417.1L332.6,418.5L333.4,419.8L334.1,421.1L334.8,422.4L335.6,423.7L336.3,425.0L337.1,426.3L337.9,427.6L338.7,428.9L339.5,430.2L340.3,431.5L341.1,432.7L342.0,434.0L342.8,435.3L343.7,436.5L344.5,437.8L345.4,439.1L346.3,440.3L347.1,441.6L348.0,442.8L348.9,444.1L349.8,445.3Z M519.8,481.0L519.7,479.5L519.6,478.1L519.5,476.6L519.5,475.1L519.4,473.7L519.3,472.2L519.3,470.7L519.2,469.2L519.2,467.7L519.1,466.2L519.1,464.7L519.0,463.2L519.0,461.7L519.0,460.1L518.9,458.6L518.9,457.1L518.8,455.6L518.8,454.1L518.7,452.5L518.6,451.0L518.6,449.5L518.5,448.0L518.4,446.4L518.3,444.9L518.2,443.4L518.1,441.9L517.9,440.4L517.8,438.8L517.6,437.3L517.4,435.8L517.2,434.3L517.0,432.8L516.8,431.3L516.5,429.8L516.3,428.3L516.0,426.8L515.7,425.3L515.3,423.8L515.0,422.3L514.6,420.9L514.2,419.4L513.7,417.9L513.3,416.5L512.8,415.0L512.3,413.6L511.7,412.2L511.2,410.7L510.6,409.3L510.0,407.9L509.3,406.5L508.7,405.1L508.0,403.8L507.3,402.4L506.6,401.1L505.8,399.7L505.0,398.4L504.2,397.1L503.4,395.8L502.6,394.6L501.7,393.3L500.8,392.1L499.9,390.9L499.0,389.7L498.0,388.5L497.0,387.3L496.1,386.2L495.0,385.1L494.0,384.0L493.0,382.9L491.9,381.9L490.8,380.8L489.7,379.8L488.6,378.8L487.4,377.9L486.3,377.0L485.1,376.1L483.9,375.2L482.7,374.3L481.5,373.5L480.2,372.7L479.0,372.0L477.7,371.2L476.4,370.5L475.1,369.9L473.8,369.2L472.4,368.6L471.1,368.0L469.7,367.5L468.3,367.0L466.9,366.5L465.5,366.1L464.1,365.7L462.7,365.3L461.2,365.0L459.8,364.7L458.3,364.4L456.9,364.2L455.4,363.9L453.9,363.8L452.4,363.6L450.9,363.5L449.4,363.4L447.9,363.4L446.4,363.4L444.9,363.4L443.4,363.4L441.9,363.5L440.4,363.6L438.9,363.8L437.4,363.9L435.9,364.1L434.4,364.4L432.9,364.6L431.4,364.9L430.0,365.2L428.5,365.6L427.0,366.0L425.6,366.4L424.1,366.8L422.7,367.3L421.2,367.8L419.8,368.3L418.4,368.9L417.0,369.4L415.6,370.0L414.2,370.7L412.9,371.3L411.5,372.0L410.2,372.8L408.9,373.5L407.6,374.3L406.3,375.1L405.1,375.9L403.9,376.8L402.6,377.6L401.5,378.6L400.3,379.5L399.1,380.4L398.0,381.4L396.9,382.4L395.8,383.5L394.8,384.5L393.8,385.6L392.8,386.7L391.8,387.9L390.9,389.0L390.0,390.2L389.1,391.4L388.2,392.7L387.4,393.9L386.7,395.2L385.9,396.5L385.2,397.8L384.5,399.2L383.9,400.6L383.2,401.9L382.6,403.3L382.1,404.8L381.6,406.2L381.1,407.7L380.6,409.1L380.2,410.6L379.8,412.1L379.4,413.6L379.1,415.1L378.8,416.6L378.5,418.2L378.3,419.7L378.1,421.2L377.9,422.8L377.8,424.3L377.6,425.9L377.6,427.4L377.5,429.0L377.5,430.5L377.5,432.1L377.5,433.7L377.6,435.2L377.7,436.8L377.8,438.3L378.0,439.8L378.2,441.4L378.4,442.9L378.7,444.4L378.9,445.9L379.2,447.4L379.6,448.9L380.0,450.3L380.4,451.8L380.8,453.2L381.3,454.7L381.8,456.1L382.3,457.5L382.8,458.9L383.4,460.2L384.1,461.6L384.7,462.9L385.4,464.2L386.1,465.5L386.8,466.8L387.6,468.0L388.4,469.2L389.3,470.4L390.1,471.6L391.0,472.7L392.0,473.9L392.9,475.0L393.9,476.0L394.9,477.1L396.0,478.1L397.0,479.1L398.1,480.1L399.2,481.0L400.4,481.9L401.5,482.8L402.7,483.7L403.9,484.5L405.1,485.3L406.4,486.1L407.6,486.8L408.9,487.6L410.2,488.3L411.5,488.9L412.8,489.6L414.2,490.2L415.5,490.7L416.9,491.3L418.3,491.8L419.7,492.3L421.1,492.8L422.5,493.3L424.0,493.7L425.4,494.1L426.9,494.5L428.4,494.8L429.8,495.1L431.3,495.4L432.8,495.7L434.3,496.0L435.9,496.2L437.4,496.4L438.9,496.6L440.4,496.8L442.0,496.9L443.5,497.1L445.1,497.2L446.6,497.3L448.2,497.3L449.7,497.4L451.3,497.4L452.8,497.4L454.4,497.4L455.9,497.4L457.5,497.3L459.0,497.3L460.6,497.2L462.1,497.1L463.7,496.9L465.2,496.8L466.8,496.7L468.3,496.5L469.8,496.3L471.4,496.1L472.9,495.9L474.4,495.7L475.9,495.4L477.4,495.2L478.9,494.9L480.4,494.6L481.9,494.3L483.3,494.0L484.8,493.6L486.3,493.3L487.7,492.9L489.2,492.6L490.6,492.2L492.1,491.8L493.5,491.4L494.9,490.9L496.4,490.5L497.8,490.0L499.2,489.6L500.6,489.1L502.0,488.6L503.4,488.1L504.8,487.6L506.2,487.0L507.6,486.5L509.0,485.9L510.3,485.3L511.7,484.8L513.1,484.2L514.4,483.6L515.8,482.9L517.1,482.3L518.5,481.7L519.8,481.0Z" fill="#fff" stroke="#fff" stroke-width="8" fill-rule="evenodd" stroke-linejoin="round"/>
<path d="M522.9,516.8L523.1,518.2L523.2,519.6L523.4,521.0L523.6,522.4L523.8,523.8L523.9,525.2L524.1,526.7L524.3,528.1L524.4,529.6L524.6,531.1L524.8,532.5L525.0,534.0L525.1,535.5L525.3,537.0L525.5,538.5L525.7,540.0L525.9,541.5L526.1,543.0L526.3,544.5L526.5,546.0L526.7,547.6L526.9,549.1L527.1,550.6L527.3,552.2L527.6,553.7L527.8,555.2L528.1,556.8L528.3,558.3L528.6,559.8L528.8,561.4L529.1,562.9L529.4,564.4L529.7,566.0L530.0,567.5L530.3,569.0L530.7,570.5L531.0,572.1L531.3,573.6L531.7,575.1L532.1,576.6L532.5,578.1L532.9,579.6L533.3,581.1L533.7,582.6L534.1,584.1L534.6,585.6L535.0,587.0L535.5,588.5L536.0,590.0L536.5,591.4L537.0,592.8L537.6,594.3L538.1,595.7L538.7,597.1L539.3,598.5L539.9,599.9L540.5,601.3L541.1,602.6L541.8,604.0L542.5,605.3L543.2,606.6L543.9,608.0L544.6,609.3L545.4,610.5L546.2,611.8L546.9,613.1L547.8,614.3L548.6,615.5L549.5,616.8L550.3,618.0L551.2,619.1L552.2,620.3L553.1,621.4L554.1,622.6L555.1,623.7L556.1,624.8L557.2,625.8L558.2,626.9L559.3,627.9L560.4,628.9L561.6,629.9L562.7,630.9L563.9,631.8L565.1,632.7L566.3,633.7L567.5,634.5L568.8,635.4L570.0,636.2L571.3,637.0L572.6,637.8L573.9,638.6L575.2,639.3L576.6,640.0L577.9,640.7L579.3,641.4L580.7,642.0L582.0,642.6L583.4,643.2L584.8,643.7L586.3,644.3L587.7,644.8L589.1,645.2L590.5,645.7L592.0,646.1L593.4,646.4L594.9,646.8L596.3,647.1L597.8,647.4L599.3,647.6L600.7,647.9L602.2,648.0L603.7,648.2L605.1,648.3L606.6,648.4L608.1,648.5L609.5,648.5L611.0,648.5L612.5,648.5L614.0,648.4L615.4,648.4L616.9,648.2L618.4,648.1L619.8,647.9L621.3,647.7L622.7,647.5L624.2,647.2L625.7,647.0L627.1,646.7L628.5,646.3L630.0,646.0L631.4,645.6L632.9,645.2L634.3,644.7L635.7,644.3L637.1,643.8L638.5,643.2L639.9,642.7L641.3,642.1L642.7,641.6L644.1,640.9L645.4,640.3L646.8,639.7L648.1,639.0L649.5,638.3L650.8,637.6L652.1,636.8L653.4,636.0L654.7,635.3L656.0,634.5L657.3,633.6L658.6,632.8L659.8,631.9L661.1,631.0L662.3,630.1L663.5,629.2L664.7,628.2L665.9,627.3L667.1,626.3L668.3,625.3L669.4,624.3L670.5,623.2L671.7,622.2L672.8,621.1L673.8,620.0L674.9,618.9L676.0,617.8L677.0,616.7L678.0,615.5L679.0,614.4L680.0,613.2L681.0,612.0L681.9,610.8L682.9,609.6L683.8,608.4L684.7,607.1L685.5,605.8L686.4,604.6L687.2,603.3L688.0,602.0L688.8,600.7L689.6,599.4L690.3,598.0L691.0,596.7L691.7,595.4L692.4,594.0L693.1,592.6L693.7,591.2L694.3,589.9L694.9,588.5L695.5,587.1L696.0,585.6L696.5,584.2L697.1,582.8L697.6,581.4L698.0,579.9L698.5,578.5L698.9,577.0L699.3,575.5L699.7,574.1L700.1,572.6L700.5,571.1L700.8,569.7L701.1,568.2L701.5,566.7L701.7,565.2L702.0,563.7L702.3,562.2L702.5,560.7L702.8,559.2L703.0,557.7L703.2,556.2L703.4,554.7L703.5,553.2L703.7,551.7L703.8,550.2L704.0,548.7L704.1,547.2L704.2,545.7L704.3,544.2L704.4,542.7L704.4,541.2L704.5,539.7L704.5,538.2L704.6,536.8L704.6,535.3L704.6,533.8L675.5,533.8L675.3,535.2L675.1,536.7L674.9,538.1L674.7,539.6L674.6,541.0L674.4,542.5L674.3,544.0L674.2,545.5L674.0,546.9L673.9,548.4L673.8,550.0L673.6,551.5L673.5,553.0L673.3,554.5L673.2,556.1L673.0,557.6L672.8,559.2L672.5,560.8L672.3,562.4L672.0,563.9L671.7,565.5L671.3,567.1L670.9,568.7L670.5,570.3L670.1,571.9L669.6,573.4L669.0,574.9L668.4,576.4L667.8,577.8L667.1,579.3L666.4,580.6L665.6,581.9L664.8,583.2L663.9,584.4L662.9,585.6L661.9,586.6L660.9,587.7L659.7,588.6L658.6,589.4L657.3,590.2L656.1,590.9L654.8,591.6L653.4,592.1L652.1,592.6L650.7,592.9L649.3,593.2L647.9,593.4L646.5,593.5L645.0,593.6L643.6,593.5L642.2,593.3L640.8,593.1L639.4,592.7L638.1,592.2L636.7,591.7L635.4,591.0L634.1,590.2L632.9,589.4L631.6,588.5L630.4,587.6L629.3,586.6L628.1,585.6L627.0,584.5L625.9,583.5L624.8,582.4L623.8,581.3L622.8,580.1L621.8,579.0L620.9,577.8L619.9,576.6L619.0,575.4L618.1,574.2L617.3,573.0L616.4,571.7L615.6,570.5L614.8,569.2L614.0,567.9L613.3,566.6L612.5,565.3L611.8,564.0L611.1,562.7L610.4,561.3L609.7,559.9L609.1,558.6L608.4,557.2L607.8,555.8L607.2,554.4L606.6,553.0L606.0,551.6L605.4,550.2L604.9,548.7L604.3,547.3L603.8,545.9L603.3,544.4L602.7,543.0L602.2,541.5L601.7,540.0L601.2,538.6L600.7,537.1L600.3,535.6L599.8,534.2L599.3,532.7L598.8,531.2L598.4,529.7L597.9,528.2L597.5,526.7L597.0,525.3L596.6,523.8L596.1,522.3L595.7,520.8L595.2,519.3L594.8,517.9L594.3,516.4L593.9,514.9L593.4,513.4L592.9,512.0L592.5,510.5L592.0,509.1L591.5,507.6L591.1,506.2L590.6,504.8L590.1,503.3L589.6,501.9L589.1,500.5L588.6,499.1L588.1,497.7L587.5,496.3L587.0,494.9L586.4,493.6L585.9,492.2L585.3,490.9L584.7,489.5L584.1,488.2L585.2,487.2L586.2,486.1L587.3,485.1L588.4,484.1L589.4,483.0L590.5,482.0L591.6,480.9L592.6,479.9L593.7,478.8L594.8,477.8L595.9,476.8L596.9,475.7L598.0,474.6L599.1,473.6L600.1,472.5L601.2,471.5L602.3,470.4L603.3,469.4L604.4,468.3L605.5,467.2L606.5,466.2L607.6,465.1L608.7,464.0L609.7,462.9L610.8,461.9L611.8,460.8L612.9,459.7L613.9,458.6L615.0,457.5L616.0,456.4L617.1,455.3L618.1,454.2L619.1,453.1L620.2,452.0L621.2,450.9L622.2,449.8L623.2,448.7L624.3,447.6L625.3,446.5L626.3,445.3L627.3,444.2L628.3,443.1L629.3,441.9L630.3,440.8L631.3,439.7L632.3,438.5L633.2,437.4L634.2,436.2L635.2,435.1L636.1,433.9L637.1,432.8L638.1,431.6L639.0,430.4L639.9,429.2L640.9,428.1L641.8,426.9L642.7,425.7L643.6,424.5L644.5,423.3L645.4,422.1L646.3,420.9L647.2,419.7L648.1,418.5L649.0,417.3L649.8,416.0L650.7,414.8L651.5,413.6L652.4,412.4L653.2,411.1L654.0,409.9L654.9,408.6L655.7,407.4L656.5,406.1L657.3,404.8L658.0,403.6L658.8,402.3L659.6,401.0L660.3,399.7L661.1,398.4L661.8,397.1L662.5,395.8L663.3,394.5L664.0,393.2L664.7,391.9L665.3,390.6L666.0,389.2L666.7,387.9L667.4,386.6L668.0,385.2L668.7,383.9L669.3,382.5L669.9,381.2L670.5,379.8L671.1,378.5L671.7,377.1L672.3,375.7L672.9,374.3L673.5,373.0L674.0,371.6L674.6,370.2L675.1,368.8L675.7,367.4L676.2,366.0L676.7,364.6L677.2,363.2L677.7,361.8L678.2,360.4L678.7,358.9L679.2,357.5L679.7,356.1L680.1,354.7L680.6,353.2L681.0,351.8L681.5,350.4L681.9,348.9L682.3,347.5L682.8,346.0L683.2,344.6L683.6,343.1L684.0,341.7L684.3,340.2L684.7,338.8L685.1,337.3L685.4,335.9L685.8,334.4L686.2,332.9L686.5,331.5L686.8,330.0L687.1,328.5L687.5,327.0L687.8,325.6L688.1,324.1L688.4,322.6L688.7,321.1L688.9,319.6L689.2,318.2L689.5,316.7L689.8,315.2L690.0,313.7L690.3,312.2L690.5,310.7L690.7,309.2L691.0,307.7L691.2,306.2L691.4,304.7L691.6,303.2L691.8,301.7L692.0,300.2L692.2,298.7L692.3,297.2L692.5,295.7L692.7,294.2L692.8,292.7L693.0,291.2L693.1,289.7L693.2,288.2L693.4,286.7L693.5,285.2L693.6,283.7L693.7,282.2L693.8,280.7L693.9,279.2L694.0,277.7L694.0,276.2L694.1,274.7L694.1,273.1L694.2,271.6L694.2,270.1L694.3,268.6L694.3,267.1L694.3,265.6L694.3,264.1L694.4,262.6L694.4,261.1L694.3,259.6L694.3,258.1L694.3,256.5L694.3,255.0L694.2,253.5L694.2,252.0L694.1,250.5L694.1,249.0L694.0,247.5L693.9,246.0L693.9,244.5L693.8,243.0L693.7,241.5L693.6,240.0L693.4,238.5L693.3,237.0L693.2,235.5L693.1,234.0L692.9,232.5L692.8,231.0L692.6,229.5L692.4,228.0L692.3,226.5L692.1,225.0L691.9,223.5L691.7,222.0L691.5,220.6L691.3,219.1L691.1,217.6L690.8,216.1L690.6,214.6L690.4,213.1L690.1,211.7L689.9,210.2L689.6,208.7L689.3,207.2L689.0,205.8L688.7,204.3L688.4,202.8L688.1,201.3L687.8,199.9L687.5,198.4L687.2,197.0L686.8,195.5L686.5,194.0L686.1,192.6L685.8,191.1L685.4,189.7L685.0,188.2L684.7,186.8L684.3,185.3L683.9,183.9L683.5,182.5L683.0,181.0L682.6,179.6L682.2,178.2L681.7,176.7L681.3,175.3L680.8,173.9L680.4,172.5L679.9,171.1L679.4,169.6L678.9,168.2L678.4,166.8L677.9,165.4L677.4,164.0L676.9,162.6L676.4,161.2L675.9,159.8L675.3,158.4L674.8,157.0L674.2,155.7L673.6,154.3L673.1,152.9L672.5,151.5L671.9,150.2L671.3,148.8L670.7,147.4L670.1,146.1L669.4,144.7L668.8,143.4L668.2,142.0L667.5,140.7L666.8,139.3L666.2,138.0L665.5,136.6L664.8,135.3L664.1,134.0L663.4,132.7L662.7,131.4L662.0,130.0L661.3,128.7L660.6,127.4L659.8,126.1L659.1,124.8L658.3,123.5L657.5,122.2L656.8,121.0L656.0,119.7L655.2,118.4L654.4,117.1L653.6,115.9L652.8,114.6L652.0,113.4L651.1,112.1L650.3,110.9L649.5,109.6L648.6,108.4L647.7,107.2L646.9,105.9L646.0,104.7L645.1,103.5L644.2,102.3L643.3,101.1L642.4,99.9L641.5,98.7L640.6,97.5L639.7,96.3L638.7,95.1L637.8,94.0L636.8,92.8L635.9,91.6L634.9,90.5L634.0,89.3L633.0,88.2L632.0,87.0L631.0,85.9L630.0,84.8L629.0,83.7L628.0,82.5L627.0,81.4L625.9,80.3L624.9,79.2L623.9,78.1L622.8,77.1L621.8,76.0L620.7,74.9L619.7,73.9L618.6,72.8L617.5,71.7L616.4,70.7L615.3,69.7L614.2,68.6L613.1,67.6L612.0,66.6L610.9,65.6L609.8,64.6L608.7,63.6L607.5,62.6L606.4,61.6L605.2,60.6L604.1,59.7L602.9,58.7L601.8,57.8L600.6,56.8L599.4,55.9L598.2,54.9L597.0,54.0L595.8,53.1L594.6,52.2L593.4,51.3L592.2,50.4L591.0,49.5L589.8,48.6L588.6,47.8L587.3,46.9L586.1,46.1L584.8,45.2L583.6,44.4L582.3,43.6L581.1,42.7L579.8,41.9L578.5,41.1L577.3,40.3L576.0,39.5L574.7,38.8L573.4,38.0L572.1,37.2L570.8,36.5L569.5,35.7L568.2,35.0L566.9,34.3L565.5,33.6L564.2,32.8L562.9,32.1L561.5,31.5L560.2,30.8L558.9,30.1L557.5,29.4L556.2,28.8L554.8,28.1L553.4,27.5L552.1,26.9L550.7,26.3L549.3,25.6L547.9,25.0L546.6,24.4L545.2,23.9L543.8,23.3L542.4,22.7L541.0,22.2L539.6,21.6L538.2,21.1L536.8,20.6L535.4,20.0L533.9,19.5L532.5,19.0L531.1,18.5L529.7,18.1L528.2,17.6L526.8,17.1L525.4,16.7L523.9,16.2L522.5,15.8L521.0,15.4L519.6,15.0L518.1,14.5L516.7,14.2L515.2,13.8L513.8,13.4L512.3,13.0L510.9,12.7L509.4,12.3L507.9,12.0L506.5,11.6L505.0,11.3L503.5,11.0L502.1,10.7L500.6,10.4L499.1,10.1L497.6,9.8L496.1,9.6L494.7,9.3L493.2,9.1L491.7,8.8L490.2,8.6L488.7,8.4L487.2,8.2L485.7,8.0L484.2,7.8L482.8,7.6L481.3,7.4L479.8,7.3L478.3,7.1L476.8,7.0L475.3,6.8L473.8,6.7L472.3,6.6L470.8,6.5L469.3,6.4L467.8,6.3L466.3,6.2L464.8,6.2L463.3,6.1L461.8,6.1L460.3,6.0L458.8,6.0L457.3,6.0L455.8,6.0L454.3,6.0L452.8,6.0L451.3,6.0L449.8,6.0L448.3,6.1L446.8,6.1L445.3,6.2L443.8,6.2L442.3,6.3L440.8,6.4L439.3,6.5L437.8,6.6L436.3,6.7L434.8,6.8L433.3,7.0L431.8,7.1L430.3,7.3L428.8,7.4L427.4,7.6L425.9,7.8L424.4,8.0L422.9,8.2L421.4,8.4L419.9,8.6L418.4,8.8L417.0,9.0L415.5,9.3L414.0,9.5L412.5,9.8L411.1,10.1L409.6,10.4L408.1,10.7L406.7,11.0L405.2,11.3L403.7,11.6L402.3,11.9L400.8,12.3L399.4,12.6L397.9,13.0L396.5,13.3L395.0,13.7L393.6,14.1L392.1,14.5L390.7,14.9L389.3,15.3L387.8,15.7L386.4,16.2L385.0,16.6L383.5,17.1L382.1,17.5L380.7,18.0L379.3,18.5L377.9,18.9L376.4,19.4L375.0,19.9L373.6,20.5L372.2,21.0L370.8,21.5L369.4,22.1L368.1,22.6L366.7,23.2L365.3,23.8L363.9,24.3L362.5,24.9L361.2,25.5L359.8,26.1L358.4,26.7L357.1,27.4L355.7,28.0L354.4,28.7L353.0,29.3L351.7,30.0L350.3,30.6L349.0,31.3L347.7,32.0L346.4,32.7L345.0,33.4L343.7,34.2L342.4,34.9L341.1,35.6L339.8,36.4L338.5,37.1L337.2,37.9L335.9,38.7L334.6,39.4L333.4,40.2L332.1,41.0L330.8,41.8L329.6,42.7L328.3,43.5L327.1,44.3L325.8,45.2L324.6,46.0L323.4,46.9L322.1,47.8L320.9,48.7L319.7,49.5L318.5,50.4L317.3,51.3L316.1,52.3L314.9,53.2L313.7,54.1L312.5,55.1L311.3,56.0L310.2,57.0L309.0,57.9L307.8,58.9L306.7,59.9L305.5,60.8L304.4,61.8L303.3,62.8L302.1,63.8L301.0,64.9L299.9,65.9L298.8,66.9L297.7,68.0L296.6,69.0L295.5,70.0L294.4,71.1L293.3,72.2L292.2,73.2L291.2,74.3L290.1,75.4L289.1,76.5L288.0,77.6L287.0,78.7L285.9,79.8L284.9,80.9L283.9,82.1L282.9,83.2L281.9,84.3L280.9,85.5L279.9,86.6L278.9,87.8L277.9,88.9L276.9,90.1L276.0,91.3L275.0,92.4L274.1,93.6L273.1,94.8L272.2,96.0L271.3,97.2L270.3,98.4L269.4,99.6L268.5,100.8L267.6,102.0L266.7,103.3L265.8,104.5L265.0,105.7L264.1,107.0L263.2,108.2L262.4,109.5L261.5,110.7L260.7,112.0L259.8,113.3L259.0,114.5L258.2,115.8L257.4,117.1L256.6,118.3L255.8,119.6L255.0,120.9L254.2,122.2L253.4,123.5L252.7,124.8L251.9,126.1L251.2,127.4L250.4,128.7L249.7,130.1L249.0,131.4L248.3,132.7L247.6,134.0L246.9,135.4L246.2,136.7L245.5,138.0L244.8,139.4L244.2,140.7L243.5,142.1L242.9,143.4L242.2,144.8L241.6,146.1L241.0,147.5L240.4,148.8L239.7,150.2L239.2,151.6L238.6,152.9L238.0,154.3L237.4,155.7L236.8,157.1L236.3,158.4L235.7,159.8L235.2,161.2L234.7,162.6L234.2,164.0L233.6,165.4L233.1,166.8L232.6,168.2L232.1,169.6L231.7,171.0L231.2,172.4L230.7,173.8L230.3,175.2L229.8,176.6L229.4,178.0L228.9,179.5L228.5,180.9L228.1,182.3L227.7,183.7L227.3,185.2L226.9,186.6L226.5,188.0L226.1,189.5L225.7,190.9L225.4,192.3L225.0,193.8L224.7,195.2L224.3,196.7L224.0,198.1L223.7,199.6L223.4,201.0L223.1,202.5L222.8,203.9L222.5,205.4L222.2,206.8L221.9,208.3L221.6,209.8L221.4,211.2L221.1,212.7L220.9,214.2L220.6,215.6L220.4,217.1L220.2,218.6L219.9,220.1L219.7,221.5L219.5,223.0L219.3,224.5L219.1,226.0L219.0,227.5L218.8,229.0L218.6,230.5L218.4,231.9L218.3,233.4L218.2,234.9L218.0,236.4L217.9,237.9L217.8,239.4L217.6,240.9L217.5,242.4L217.4,243.9L217.3,245.4L217.2,246.9L217.2,248.4L217.1,249.9L217.0,251.4L217.0,252.9L216.9,254.4L216.9,256.0L216.8,257.5L216.8,259.0L216.8,260.5L216.8,262.0L216.8,263.5L216.8,265.0L216.8,266.5L216.8,268.0L216.8,269.5L216.9,271.1L216.9,272.6L216.9,274.1L217.0,275.6L217.1,277.1L217.1,278.6L217.2,280.1L217.3,281.6L217.4,283.1L217.5,284.6L217.6,286.2L217.7,287.7L217.8,289.2L218.0,290.7L218.1,292.2L218.2,293.7L218.4,295.2L218.5,296.7L218.7,298.2L218.9,299.7L219.1,301.2L219.3,302.7L219.5,304.2L219.7,305.7L219.9,307.2L220.1,308.7L220.3,310.2L220.6,311.7L220.8,313.2L221.0,314.7L221.3,316.2L221.6,317.7L221.8,319.2L222.1,320.6L222.4,322.1L222.7,323.6L223.0,325.1L223.3,326.6L223.6,328.0L224.0,329.5L224.3,331.0L224.6,332.5L225.0,333.9L225.4,335.4L225.7,336.9L226.1,338.3L226.5,339.8L226.9,341.2L227.3,342.7L227.7,344.1L228.1,345.6L228.5,347.0L228.9,348.5L229.3,349.9L229.8,351.4L230.2,352.8L230.7,354.2L231.2,355.7L231.6,357.1L232.1,358.5L232.6,359.9L233.1,361.3L233.6,362.8L234.1,364.2L234.6,365.6L235.2,367.0L235.7,368.4L236.2,369.8L236.8,371.2L237.4,372.6L237.9,374.0L238.5,375.3L239.1,376.7L239.7,378.1L240.3,379.5L240.9,380.8L241.5,382.2L242.1,383.6L242.7,384.9L243.4,386.3L244.0,387.6L244.7,389.0L245.3,390.3L246.0,391.6L246.7,393.0L247.4,394.3L248.1,395.6L248.8,397.0L249.5,398.3L250.2,399.6L250.9,400.9L251.6,402.2L252.4,403.5L253.1,404.8L253.9,406.1L254.6,407.4L255.4,408.6L256.2,409.9L256.9,411.2L257.7,412.4L258.5,413.7L259.3,415.0L260.1,416.2L261.0,417.5L261.8,418.7L262.6,419.9L263.5,421.2L264.3,422.4L265.2,423.6L266.0,424.8L266.9,426.1L267.8,427.3L268.7,428.5L269.6,429.7L270.5,430.9L271.4,432.1L272.3,433.2L273.2,434.4L274.1,435.6L275.1,436.8L276.0,437.9L276.9,439.1L277.9,440.2L278.9,441.4L279.8,442.5L280.8,443.7L281.8,444.8L282.8,445.9L283.8,447.1L284.8,448.2L285.8,449.3L286.8,450.4L287.8,451.5L288.8,452.6L289.9,453.7L290.9,454.8L292.0,455.8L293.0,456.9L294.1,458.0L295.1,459.0L296.2,460.1L297.3,461.1L298.4,462.2L299.5,463.2L300.6,464.2L301.7,465.3L302.8,466.3L303.9,467.3L305.0,468.3L306.2,469.3L307.3,470.3L308.5,471.3L309.6,472.3L310.8,473.3L311.9,474.2L313.1,475.2L314.3,476.2L315.4,477.1L316.6,478.1L317.8,479.0L319.0,480.0L320.2,480.9L321.4,481.8L322.6,482.7L323.8,483.6L325.0,484.5L326.2,485.4L327.5,486.3L328.7,487.2L329.9,488.1L331.2,489.0L332.4,489.8L333.7,490.7L334.9,491.5L336.2,492.4L337.4,493.2L338.7,494.1L339.9,494.9L341.2,495.7L342.5,496.5L343.8,497.3L345.0,498.1L346.3,498.9L347.6,499.7L348.9,500.5L350.2,501.2L351.5,502.0L352.8,502.7L354.1,503.5L355.4,504.2L356.7,505.0L358.0,505.7L359.3,506.4L360.7,507.1L362.0,507.8L363.3,508.5L364.6,509.1L366.0,509.8L367.3,510.5L368.7,511.1L370.0,511.7L371.4,512.4L372.7,513.0L374.1,513.6L375.4,514.2L376.8,514.7L378.2,515.3L379.6,515.9L381.0,516.4L382.3,516.9L383.7,517.4L385.1,517.9L386.5,518.4L388.0,518.9L389.4,519.3L390.8,519.8L392.2,520.2L393.6,520.6L395.1,521.0L396.5,521.4L398.0,521.8L399.4,522.2L400.9,522.5L402.3,522.8L403.8,523.2L405.2,523.5L406.7,523.8L408.2,524.1L409.6,524.3L411.1,524.6L412.6,524.8L414.1,525.1L415.6,525.3L417.1,525.5L418.5,525.7L420.0,525.9L421.5,526.1L423.0,526.2L424.5,526.4L426.0,526.5L427.5,526.6L429.0,526.8L430.5,526.9L432.0,527.0L433.5,527.1L435.1,527.1L436.6,527.2L438.1,527.3L439.6,527.3L441.1,527.4L442.6,527.4L444.1,527.4L445.6,527.4L447.1,527.4L448.6,527.4L450.1,527.4L451.7,527.4L453.2,527.3L454.7,527.3L456.2,527.2L457.7,527.2L459.2,527.1L460.7,527.0L462.2,526.9L463.7,526.8L465.2,526.7L466.7,526.6L468.2,526.5L469.7,526.3L471.2,526.2L472.8,526.1L474.3,525.9L475.8,525.7L477.3,525.6L478.8,525.4L480.2,525.2L481.7,525.0L483.2,524.8L484.7,524.6L486.2,524.4L487.7,524.2L489.2,523.9L490.7,523.7L492.2,523.4L493.7,523.2L495.1,522.9L496.6,522.7L498.1,522.4L499.6,522.1L501.1,521.8L502.5,521.5L504.0,521.2L505.5,520.9L506.9,520.6L508.4,520.3L509.9,520.0L511.3,519.6L512.8,519.3L514.2,519.0L515.7,518.6L517.1,518.3L518.6,517.9L520.0,517.5L521.5,517.2L522.9,516.8Z M349.8,445.3L349.5,443.8L349.3,442.2L349.0,440.7L348.8,439.2L348.6,437.7L348.5,436.1L348.4,434.6L348.3,433.1L348.2,431.5L348.1,430.0L348.1,428.5L348.1,426.9L348.2,425.4L348.2,423.9L348.3,422.3L348.4,420.8L348.5,419.3L348.7,417.8L348.8,416.3L349.0,414.8L349.3,413.2L349.5,411.7L349.8,410.2L350.1,408.8L350.4,407.3L350.7,405.8L351.1,404.3L351.5,402.8L351.9,401.4L352.3,399.9L352.8,398.5L353.3,397.0L353.8,395.6L354.3,394.2L354.8,392.8L355.4,391.4L356.0,390.0L356.6,388.6L357.2,387.2L357.9,385.9L358.5,384.5L359.2,383.2L359.9,381.9L360.7,380.6L361.4,379.2L362.2,378.0L363.0,376.7L363.8,375.4L364.6,374.2L365.5,372.9L366.4,371.7L367.2,370.5L368.2,369.3L369.1,368.2L370.0,367.0L371.0,365.9L372.0,364.7L373.0,363.6L374.0,362.5L375.0,361.5L376.1,360.4L377.2,359.4L378.3,358.4L379.4,357.4L380.5,356.4L381.6,355.4L382.8,354.5L384.0,353.6L385.2,352.7L386.4,351.8L387.6,350.9L388.8,350.1L390.1,349.3L391.3,348.5L392.6,347.7L393.9,346.9L395.2,346.2L396.5,345.4L397.8,344.7L399.2,344.0L400.5,343.4L401.9,342.7L403.2,342.1L404.6,341.5L406.0,340.9L407.4,340.3L408.8,339.8L410.2,339.3L411.6,338.8L413.1,338.3L414.5,337.8L416.0,337.4L417.4,337.0L418.9,336.6L420.3,336.2L421.8,335.8L423.3,335.5L424.7,335.2L426.2,334.9L427.7,334.6L429.2,334.3L430.7,334.1L432.2,333.9L433.7,333.7L435.2,333.5L436.7,333.4L438.2,333.2L439.7,333.1L441.2,333.0L442.7,333.0L444.3,332.9L445.8,332.9L447.3,332.9L448.8,332.9L450.3,333.0L451.8,333.0L453.3,333.1L454.8,333.2L456.3,333.3L457.8,333.5L459.3,333.7L460.8,333.8L462.3,334.0L463.8,334.3L465.3,334.5L466.8,334.8L468.2,335.1L469.7,335.4L471.2,335.7L472.6,336.1L474.1,336.4L475.6,336.8L477.0,337.2L478.5,337.6L479.9,338.1L481.3,338.5L482.8,339.0L484.2,339.5L485.6,340.0L487.0,340.6L488.4,341.1L489.8,341.7L491.2,342.3L492.6,342.9L494.0,343.5L495.3,344.1L496.7,344.8L498.1,345.5L499.4,346.2L500.7,346.9L502.1,347.6L503.4,348.3L504.7,349.1L506.0,349.9L507.3,350.7L508.5,351.5L509.8,352.3L511.1,353.1L512.3,354.0L513.5,354.9L514.8,355.8L516.0,356.7L517.2,357.6L518.4,358.5L519.5,359.5L520.7,360.4L521.8,361.4L523.0,362.4L524.1,363.4L525.2,364.4L526.3,365.4L527.4,366.5L528.5,367.6L529.5,368.6L530.6,369.7L531.6,370.8L532.6,371.9L533.6,373.1L534.6,374.2L535.5,375.4L536.5,376.5L537.4,377.7L538.4,378.9L539.3,380.1L540.2,381.3L541.1,382.5L541.9,383.8L542.8,385.0L543.7,386.3L544.5,387.5L545.3,388.8L546.1,390.1L546.9,391.4L547.7,392.7L548.4,394.0L549.2,395.3L549.9,396.7L550.6,398.0L551.3,399.3L552.0,400.7L552.7,402.0L553.3,403.4L554.0,404.8L554.6,406.2L555.2,407.5L555.8,408.9L556.4,410.3L557.0,411.7L557.6,413.2L558.1,414.6L558.7,416.0L559.2,417.4L559.7,418.8L560.2,420.3L560.7,421.7L561.1,423.2L561.6,424.6L562.0,426.1L562.4,427.5L562.8,429.0L563.2,430.4L563.6,431.9L564.0,433.3L564.3,434.8L564.7,436.3L565.0,437.7L565.3,439.2L566.0,437.9L566.8,436.6L567.5,435.3L568.3,433.9L569.0,432.6L569.7,431.3L570.5,430.0L571.2,428.6L571.9,427.3L572.6,426.0L573.3,424.6L574.0,423.3L574.7,422.0L575.4,420.6L576.1,419.3L576.8,417.9L577.4,416.6L578.1,415.2L578.8,413.9L579.4,412.5L580.1,411.2L580.7,409.8L581.3,408.4L581.9,407.1L582.6,405.7L583.2,404.3L583.8,402.9L584.4,401.6L584.9,400.2L585.5,398.8L586.1,397.4L586.6,396.0L587.2,394.6L587.7,393.2L588.2,391.8L588.7,390.4L589.3,389.0L589.7,387.6L590.2,386.2L590.7,384.7L591.2,383.3L591.6,381.9L592.0,380.5L592.5,379.0L592.9,377.6L593.3,376.2L593.7,374.7L594.1,373.3L594.4,371.8L594.8,370.4L595.1,368.9L595.4,367.4L595.8,366.0L596.1,364.5L596.4,363.0L596.7,361.6L596.9,360.1L597.2,358.6L597.5,357.1L597.7,355.7L598.0,354.2L598.2,352.7L598.4,351.2L598.7,349.7L598.9,348.2L599.1,346.7L599.3,345.2L599.5,343.7L599.6,342.2L599.8,340.7L600.0,339.2L600.1,337.7L600.3,336.2L600.5,334.7L600.6,333.2L600.7,331.7L600.9,330.2L601.0,328.7L601.1,327.2L601.3,325.7L601.4,324.2L601.5,322.7L601.6,321.2L601.7,319.7L601.8,318.2L601.9,316.7L602.0,315.2L602.1,313.7L602.2,312.2L602.3,310.7L602.4,309.2L602.5,307.7L602.6,306.2L602.7,304.7L602.7,303.2L602.8,301.7L602.9,300.2L602.9,298.7L603.0,297.2L603.0,295.7L603.1,294.2L603.1,292.7L603.2,291.2L603.2,289.7L603.3,288.2L603.3,286.7L603.3,285.2L603.4,283.7L603.4,282.2L603.4,280.7L603.4,279.2L603.4,277.7L603.5,276.2L603.5,274.7L603.5,273.2L603.5,271.7L603.5,270.2L603.5,268.7L603.5,267.2L603.4,265.7L603.4,264.2L603.4,262.7L603.4,261.2L603.4,259.7L603.3,258.2L603.3,256.7L603.3,255.2L603.2,253.7L603.2,252.2L603.1,250.7L603.1,249.2L603.0,247.7L603.0,246.2L602.9,244.7L602.8,243.2L602.8,241.7L602.7,240.2L602.6,238.7L602.5,237.2L602.4,235.7L602.4,234.2L602.3,232.7L602.2,231.2L602.1,229.7L602.0,228.2L601.9,226.7L601.8,225.2L601.7,223.7L601.5,222.2L601.4,220.7L601.3,219.2L601.2,217.7L601.1,216.2L600.9,214.7L600.8,213.2L600.6,211.7L600.5,210.2L600.4,208.7L600.2,207.2L600.1,205.7L599.9,204.2L599.7,202.7L599.6,201.2L599.4,199.7L599.2,198.2L599.1,196.7L598.9,195.2L598.7,193.8L598.5,192.3L598.3,190.8L598.1,189.3L597.9,187.8L597.7,186.3L597.5,184.8L597.3,183.3L597.1,181.8L596.9,180.3L596.7,178.8L596.5,177.3L596.2,175.8L596.0,174.3L595.8,172.8L595.6,171.3L595.3,169.8L595.1,168.3L594.8,166.8L594.6,165.3L594.3,163.8L594.0,162.3L593.8,160.8L593.5,159.3L593.2,157.8L592.9,156.3L592.6,154.9L592.3,153.4L592.0,151.9L591.7,150.4L591.4,148.9L591.1,147.5L590.7,146.0L590.4,144.5L590.0,143.1L589.6,141.6L589.3,140.1L588.9,138.7L588.5,137.2L588.1,135.8L587.7,134.3L587.2,132.9L586.8,131.5L586.4,130.0L585.9,128.6L585.4,127.2L585.0,125.8L584.5,124.3L584.0,122.9L583.4,121.5L582.9,120.1L582.4,118.7L581.8,117.4L581.2,116.0L580.7,114.6L580.1,113.2L579.4,111.9L578.8,110.5L578.2,109.2L577.5,107.8L576.8,106.5L576.2,105.2L575.5,103.8L574.7,102.5L574.0,101.2L573.3,99.9L572.5,98.6L571.7,97.3L570.9,96.1L570.1,94.8L569.3,93.6L568.5,92.3L567.6,91.1L566.7,89.8L565.9,88.6L565.0,87.4L564.1,86.2L563.1,85.0L562.2,83.9L561.2,82.7L560.3,81.6L559.3,80.4L558.3,79.3L557.3,78.2L556.3,77.1L555.3,76.0L554.2,74.9L553.2,73.8L552.1,72.8L551.0,71.7L549.9,70.7L548.8,69.7L547.7,68.7L546.6,67.7L545.4,66.8L544.3,65.8L543.1,64.9L541.9,63.9L540.7,63.0L539.5,62.1L538.3,61.3L537.1,60.4L535.9,59.6L534.6,58.7L533.4,57.9L532.1,57.1L530.8,56.3L529.5,55.6L528.2,54.8L526.9,54.1L525.6,53.4L524.3,52.7L523.0,52.0L521.6,51.3L520.3,50.7L518.9,50.0L517.5,49.4L516.2,48.8L514.8,48.2L513.4,47.6L512.0,47.0L510.6,46.5L509.2,46.0L507.8,45.5L506.3,44.9L504.9,44.5L503.5,44.0L502.0,43.5L500.6,43.1L499.1,42.7L497.7,42.3L496.2,41.9L494.8,41.5L493.3,41.1L491.8,40.8L490.3,40.4L488.9,40.1L487.4,39.8L485.9,39.5L484.4,39.2L482.9,38.9L481.4,38.7L479.9,38.5L478.4,38.2L476.9,38.0L475.4,37.8L473.9,37.7L472.4,37.5L470.9,37.4L469.4,37.2L467.8,37.1L466.3,37.0L464.8,36.9L463.3,36.8L461.8,36.8L460.3,36.7L458.8,36.7L457.3,36.7L455.8,36.7L454.2,36.7L452.7,36.7L451.2,36.7L449.7,36.8L448.2,36.9L446.7,36.9L445.2,37.0L443.7,37.1L442.2,37.3L440.7,37.4L439.3,37.6L437.8,37.7L436.3,37.9L434.8,38.1L433.3,38.3L431.9,38.5L430.4,38.8L428.9,39.0L427.5,39.3L426.0,39.6L424.5,39.9L423.1,40.2L421.6,40.6L420.2,40.9L418.7,41.3L417.3,41.7L415.9,42.1L414.4,42.5L413.0,42.9L411.6,43.4L410.2,43.8L408.8,44.3L407.4,44.8L406.0,45.3L404.6,45.9L403.2,46.4L401.8,47.0L400.4,47.6L399.0,48.2L397.7,48.8L396.3,49.4L394.9,50.1L393.6,50.7L392.2,51.4L390.9,52.1L389.6,52.9L388.2,53.6L386.9,54.4L385.6,55.2L384.3,55.9L383.0,56.7L381.7,57.6L380.4,58.4L379.2,59.3L377.9,60.1L376.7,61.0L375.4,61.9L374.2,62.8L373.0,63.7L371.7,64.7L370.5,65.6L369.3,66.6L368.2,67.6L367.0,68.6L365.8,69.6L364.7,70.6L363.6,71.6L362.4,72.6L361.3,73.7L360.2,74.7L359.2,75.8L358.1,76.9L357.0,78.0L356.0,79.1L355.0,80.2L353.9,81.3L353.0,82.4L352.0,83.6L351.0,84.7L350.0,85.9L349.1,87.1L348.2,88.2L347.3,89.4L346.4,90.6L345.5,91.8L344.6,93.0L343.8,94.2L343.0,95.4L342.1,96.7L341.3,97.9L340.5,99.2L339.7,100.4L339.0,101.7L338.2,102.9L337.5,104.2L336.7,105.5L336.0,106.8L335.3,108.1L334.6,109.4L334.0,110.7L333.3,112.0L332.6,113.3L332.0,114.7L331.4,116.0L330.7,117.3L330.1,118.7L329.5,120.0L328.9,121.4L328.4,122.8L327.8,124.1L327.3,125.5L326.7,126.9L326.2,128.3L325.7,129.7L325.1,131.1L324.6,132.5L324.2,133.9L323.7,135.3L323.2,136.7L322.7,138.1L322.3,139.5L321.8,140.9L321.4,142.4L321.0,143.8L320.6,145.3L320.2,146.7L319.8,148.1L319.4,149.6L319.0,151.0L318.6,152.5L318.2,154.0L317.9,155.4L317.5,156.9L317.2,158.4L316.9,159.8L316.5,161.3L316.2,162.8L315.9,164.3L315.6,165.7L315.3,167.2L315.0,168.7L314.7,170.2L314.4,171.7L314.2,173.2L313.9,174.7L313.6,176.2L313.4,177.7L313.1,179.2L312.9,180.7L312.6,182.2L312.4,183.7L312.2,185.2L311.9,186.7L311.7,188.2L311.5,189.7L311.3,191.2L311.1,192.7L310.9,194.2L310.7,195.7L310.5,197.2L310.3,198.8L310.1,200.3L309.9,201.8L309.8,203.3L309.6,204.8L309.4,206.3L309.3,207.8L309.1,209.3L308.9,210.8L308.8,212.3L308.6,213.8L308.5,215.3L308.3,216.8L308.2,218.3L308.1,219.9L307.9,221.4L307.8,222.9L307.7,224.4L307.5,225.9L307.4,227.4L307.3,228.9L307.2,230.4L307.1,231.9L307.0,233.4L306.9,234.9L306.8,236.4L306.7,237.9L306.6,239.4L306.5,240.9L306.5,242.4L306.4,243.9L306.3,245.4L306.2,246.9L306.2,248.4L306.1,249.9L306.1,251.4L306.0,252.9L306.0,254.4L305.9,255.9L305.9,257.4L305.8,258.9L305.8,260.5L305.8,262.0L305.8,263.5L305.7,265.0L305.7,266.5L305.7,268.0L305.7,269.5L305.7,271.0L305.7,272.5L305.7,274.0L305.7,275.5L305.7,277.0L305.8,278.4L305.8,279.9L305.8,281.4L305.8,282.9L305.9,284.4L305.9,285.9L306.0,287.4L306.0,288.9L306.0,290.4L306.1,291.9L306.2,293.4L306.2,294.9L306.3,296.4L306.4,297.9L306.4,299.4L306.5,300.9L306.6,302.4L306.7,303.9L306.8,305.4L306.9,306.9L307.0,308.4L307.1,309.9L307.2,311.4L307.3,312.9L307.5,314.3L307.6,315.8L307.7,317.3L307.8,318.8L308.0,320.3L308.1,321.8L308.3,323.3L308.4,324.8L308.6,326.3L308.7,327.8L308.9,329.3L309.1,330.7L309.2,332.2L309.4,333.7L309.6,335.2L309.8,336.7L310.0,338.2L310.2,339.7L310.4,341.2L310.6,342.7L310.8,344.1L311.0,345.6L311.2,347.1L311.4,348.6L311.7,350.1L311.9,351.6L312.2,353.0L312.4,354.5L312.6,356.0L312.9,357.5L313.2,359.0L313.4,360.4L313.7,361.9L314.0,363.4L314.3,364.9L314.6,366.3L314.9,367.8L315.2,369.3L315.5,370.7L315.9,372.2L316.2,373.7L316.6,375.1L316.9,376.6L317.3,378.0L317.6,379.5L318.0,380.9L318.4,382.4L318.8,383.8L319.2,385.2L319.7,386.7L320.1,388.1L320.5,389.5L321.0,391.0L321.5,392.4L321.9,393.8L322.4,395.2L322.9,396.6L323.4,398.0L324.0,399.4L324.5,400.8L325.0,402.2L325.6,403.6L326.2,405.0L326.8,406.3L327.4,407.7L328.0,409.1L328.6,410.4L329.2,411.8L329.9,413.1L330.6,414.5L331.2,415.8L331.9,417.1L332.6,418.5L333.4,419.8L334.1,421.1L334.8,422.4L335.6,423.7L336.3,425.0L337.1,426.3L337.9,427.6L338.7,428.9L339.5,430.2L340.3,431.5L341.1,432.7L342.0,434.0L342.8,435.3L343.7,436.5L344.5,437.8L345.4,439.1L346.3,440.3L347.1,441.6L348.0,442.8L348.9,444.1L349.8,445.3Z M519.8,481.0L519.7,479.5L519.6,478.1L519.5,476.6L519.5,475.1L519.4,473.7L519.3,472.2L519.3,470.7L519.2,469.2L519.2,467.7L519.1,466.2L519.1,464.7L519.0,463.2L519.0,461.7L519.0,460.1L518.9,458.6L518.9,457.1L518.8,455.6L518.8,454.1L518.7,452.5L518.6,451.0L518.6,449.5L518.5,448.0L518.4,446.4L518.3,444.9L518.2,443.4L518.1,441.9L517.9,440.4L517.8,438.8L517.6,437.3L517.4,435.8L517.2,434.3L517.0,432.8L516.8,431.3L516.5,429.8L516.3,428.3L516.0,426.8L515.7,425.3L515.3,423.8L515.0,422.3L514.6,420.9L514.2,419.4L513.7,417.9L513.3,416.5L512.8,415.0L512.3,413.6L511.7,412.2L511.2,410.7L510.6,409.3L510.0,407.9L509.3,406.5L508.7,405.1L508.0,403.8L507.3,402.4L506.6,401.1L505.8,399.7L505.0,398.4L504.2,397.1L503.4,395.8L502.6,394.6L501.7,393.3L500.8,392.1L499.9,390.9L499.0,389.7L498.0,388.5L497.0,387.3L496.1,386.2L495.0,385.1L494.0,384.0L493.0,382.9L491.9,381.9L490.8,380.8L489.7,379.8L488.6,378.8L487.4,377.9L486.3,377.0L485.1,376.1L483.9,375.2L482.7,374.3L481.5,373.5L480.2,372.7L479.0,372.0L477.7,371.2L476.4,370.5L475.1,369.9L473.8,369.2L472.4,368.6L471.1,368.0L469.7,367.5L468.3,367.0L466.9,366.5L465.5,366.1L464.1,365.7L462.7,365.3L461.2,365.0L459.8,364.7L458.3,364.4L456.9,364.2L455.4,363.9L453.9,363.8L452.4,363.6L450.9,363.5L449.4,363.4L447.9,363.4L446.4,363.4L444.9,363.4L443.4,363.4L441.9,363.5L440.4,363.6L438.9,363.8L437.4,363.9L435.9,364.1L434.4,364.4L432.9,364.6L431.4,364.9L430.0,365.2L428.5,365.6L427.0,366.0L425.6,366.4L424.1,366.8L422.7,367.3L421.2,367.8L419.8,368.3L418.4,368.9L417.0,369.4L415.6,370.0L414.2,370.7L412.9,371.3L411.5,372.0L410.2,372.8L408.9,373.5L407.6,374.3L406.3,375.1L405.1,375.9L403.9,376.8L402.6,377.6L401.5,378.6L400.3,379.5L399.1,380.4L398.0,381.4L396.9,382.4L395.8,383.5L394.8,384.5L393.8,385.6L392.8,386.7L391.8,387.9L390.9,389.0L390.0,390.2L389.1,391.4L388.2,392.7L387.4,393.9L386.7,395.2L385.9,396.5L385.2,397.8L384.5,399.2L383.9,400.6L383.2,401.9L382.6,403.3L382.1,404.8L381.6,406.2L381.1,407.7L380.6,409.1L380.2,410.6L379.8,412.1L379.4,413.6L379.1,415.1L378.8,416.6L378.5,418.2L378.3,419.7L378.1,421.2L377.9,422.8L377.8,424.3L377.6,425.9L377.6,427.4L377.5,429.0L377.5,430.5L377.5,432.1L377.5,433.7L377.6,435.2L377.7,436.8L377.8,438.3L378.0,439.8L378.2,441.4L378.4,442.9L378.7,444.4L378.9,445.9L379.2,447.4L379.6,448.9L380.0,450.3L380.4,451.8L380.8,453.2L381.3,454.7L381.8,456.1L382.3,457.5L382.8,458.9L383.4,460.2L384.1,461.6L384.7,462.9L385.4,464.2L386.1,465.5L386.8,466.8L387.6,468.0L388.4,469.2L389.3,470.4L390.1,471.6L391.0,472.7L392.0,473.9L392.9,475.0L393.9,476.0L394.9,477.1L396.0,478.1L397.0,479.1L398.1,480.1L399.2,481.0L400.4,481.9L401.5,482.8L402.7,483.7L403.9,484.5L405.1,485.3L406.4,486.1L407.6,486.8L408.9,487.6L410.2,488.3L411.5,488.9L412.8,489.6L414.2,490.2L415.5,490.7L416.9,491.3L418.3,491.8L419.7,492.3L421.1,492.8L422.5,493.3L424.0,493.7L425.4,494.1L426.9,494.5L428.4,494.8L429.8,495.1L431.3,495.4L432.8,495.7L434.3,496.0L435.9,496.2L437.4,496.4L438.9,496.6L440.4,496.8L442.0,496.9L443.5,497.1L445.1,497.2L446.6,497.3L448.2,497.3L449.7,497.4L451.3,497.4L452.8,497.4L454.4,497.4L455.9,497.4L457.5,497.3L459.0,497.3L460.6,497.2L462.1,497.1L463.7,496.9L465.2,496.8L466.8,496.7L468.3,496.5L469.8,496.3L471.4,496.1L472.9,495.9L474.4,495.7L475.9,495.4L477.4,495.2L478.9,494.9L480.4,494.6L481.9,494.3L483.3,494.0L484.8,493.6L486.3,493.3L487.7,492.9L489.2,492.6L490.6,492.2L492.1,491.8L493.5,491.4L494.9,490.9L496.4,490.5L497.8,490.0L499.2,489.6L500.6,489.1L502.0,488.6L503.4,488.1L504.8,487.6L506.2,487.0L507.6,486.5L509.0,485.9L510.3,485.3L511.7,484.8L513.1,484.2L514.4,483.6L515.8,482.9L517.1,482.3L518.5,481.7L519.8,481.0Z" fill="#000" fill-rule="evenodd"/>
<line x1="215" y1="6" x2="707" y2="6" stroke="#1a1617" stroke-width="1.4"/>
<line x1="215" y1="648" x2="707" y2="648" stroke="#1a1617" stroke-width="1.4"/>
<line x1="707" y1="6" x2="707" y2="648" stroke="#1a1617" stroke-width="1.4"/>
<line x1="215" y1="6" x2="215" y2="648" stroke="#1a1617" stroke-width="1.4"/>
<circle cx="148.8" cy="518.4" r="11.5" fill="#000"/>
<circle cx="776.4" cy="518.5" r="11.5" fill="#fff" stroke="#000" stroke-width="1.8"/>
<circle cx="144.1" cy="720.5" r="11.3" fill="#000"/>
<text x="67" y="240">Ascent</text>
<text x="112.5" y="426.2" text-anchor="end">Left-side</text>
<text x="112.5" y="452.7" text-anchor="end">bearing</text>
<text x="0.2" y="524.8">Baseline</text>
<text x="52.2" y="584.8">Descent</text>
<text x="770" y="108">Bounding</text>
<text x="770" y="135">box</text>
<text x="806" y="456">Right-side bearing</text>
<text x="767" y="588">Advance width</text>
<text x="170.5" y="727.5">= Origin</text>
</svg>
</body></html>
